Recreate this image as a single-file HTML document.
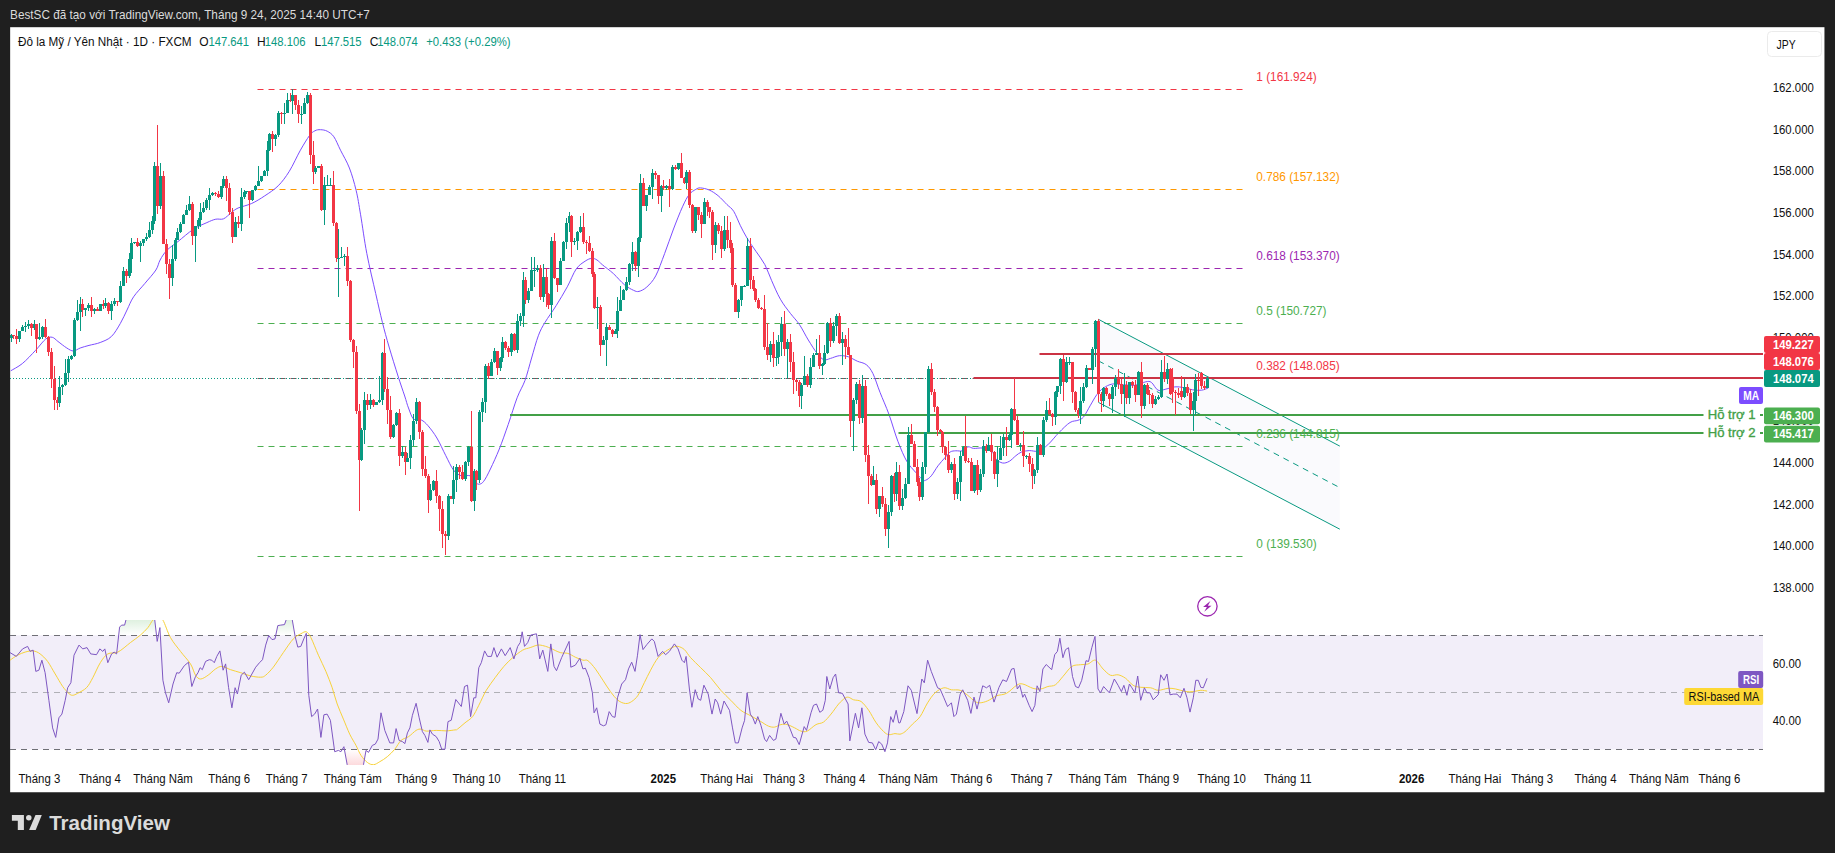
<!DOCTYPE html>
<html><head><meta charset="utf-8"><title>USDJPY</title>
<style>html,body{margin:0;padding:0;background:#1f1f1f;width:1835px;height:853px;overflow:hidden}
svg text{font-family:"Liberation Sans",sans-serif;font-size:12px}</style>
</head><body>
<svg width="1835" height="853" viewBox="0 0 1835 853" style="position:absolute;left:0;top:0">
<defs>
<clipPath id="cm"><rect x="10" y="27" width="1753" height="593"/></clipPath>
<clipPath id="cr"><rect x="10" y="620" width="1753" height="145"/></clipPath>
<clipPath id="c70"><rect x="10" y="620" width="1753" height="15.3"/></clipPath>
<clipPath id="c30"><rect x="10" y="749.4" width="1753" height="15.6"/></clipPath>
<linearGradient id="gob" gradientUnits="userSpaceOnUse" x1="0" y1="549.8" x2="0" y2="635.3"><stop offset="0" stop-color="#4caf50" stop-opacity="1"/><stop offset="1" stop-color="#4caf50" stop-opacity="0"/></linearGradient>
<linearGradient id="gos" gradientUnits="userSpaceOnUse" x1="0" y1="749.4" x2="0" y2="834.9"><stop offset="0" stop-color="#f23645" stop-opacity="0"/><stop offset="1" stop-color="#f23645" stop-opacity="1"/></linearGradient>
</defs>
<rect x="10.15" y="27.2" width="1814.3" height="765.05" fill="#ffffff"/>
<g clip-path="url(#cm)">
<line x1="257.5" x2="1243" y1="89.5" y2="89.5" stroke="#f23645" stroke-width="1" stroke-dasharray="6 5"/>
<line x1="257.5" x2="1243" y1="189.5" y2="189.5" stroke="#ff9800" stroke-width="1" stroke-dasharray="6 5"/>
<line x1="257.5" x2="1243" y1="268.5" y2="268.5" stroke="#9c27b0" stroke-width="1" stroke-dasharray="6 5"/>
<line x1="257.5" x2="1243" y1="323.5" y2="323.5" stroke="#4caf50" stroke-width="1" stroke-dasharray="6 5"/>
<line x1="257.5" x2="1243" y1="446.5" y2="446.5" stroke="#4caf50" stroke-width="1" stroke-dasharray="6 5"/>
<line x1="257.5" x2="1243" y1="556.5" y2="556.5" stroke="#4caf50" stroke-width="1" stroke-dasharray="6 5"/>
<line x1="257.5" x2="1243" y1="378.5" y2="378.5" stroke="#8d4b58" stroke-width="1" stroke-dasharray="6 5"/>
<polygon points="1098.4,319.3 1339.8,446.1 1339.8,529.2 1098.4,402.4" fill="#5b5fc7" fill-opacity="0.03"/>
<line x1="1098.4" y1="319.3" x2="1339.8" y2="446.1" stroke="#089981" stroke-width="1"/>
<line x1="1098.4" y1="402.4" x2="1339.8" y2="529.2" stroke="#089981" stroke-width="1"/>
<line x1="1098.4" y1="360.85" x2="1339.8" y2="487.65000000000003" stroke="#089981" stroke-width="1" stroke-dasharray="6 5"/>
<line x1="10" x2="1763" y1="378.5" y2="378.5" stroke="#089981" stroke-width="1" stroke-dasharray="1 2"/>
<path d="M10.7,370.8C12.6,369.6 18.1,367.0 22.3,363.6C26.5,360.2 31.7,354.4 35.6,350.3C39.5,346.2 42.9,341.2 45.7,339.0C48.5,336.8 50.3,336.9 52.3,337.3C54.3,337.7 55.5,339.6 57.9,341.4C60.3,343.2 64.2,346.4 66.8,348.0C69.4,349.6 71.3,351.0 73.5,351.0C75.7,351.0 77.6,348.9 80.2,348.0C82.8,347.1 85.7,346.3 89.0,345.4C92.3,344.5 96.5,344.0 100.2,342.5C103.9,341.0 108.1,339.7 111.4,336.5C114.8,333.3 117.7,327.9 120.3,323.5C122.9,319.1 124.8,314.4 127.0,310.0C129.2,305.6 130.6,301.2 133.6,296.8C136.6,292.4 141.1,288.0 144.8,283.5C148.5,279.0 153.4,273.9 155.9,270.0C158.4,266.1 158.3,263.3 160.1,260.0C161.9,256.7 163.8,253.5 166.8,250.4C169.8,247.3 173.6,245.0 178.0,241.5C182.4,238.0 188.7,232.3 193.5,229.2C198.3,226.0 203.2,224.3 206.9,222.6C210.6,220.9 213.0,219.8 215.8,219.2C218.6,218.6 221.0,219.9 223.6,218.8C226.2,217.7 229.0,214.3 231.4,212.5C233.8,210.7 234.8,209.5 238.1,208.0C241.4,206.5 246.9,205.6 251.4,203.6C255.9,201.6 260.3,198.8 264.8,195.8C269.3,192.8 274.1,189.9 278.2,185.8C282.3,181.7 285.6,177.2 289.3,171.3C293.0,165.4 297.0,156.1 300.4,150.2C303.8,144.3 307.0,138.9 309.4,135.7C311.8,132.5 313.0,131.8 314.9,130.8C316.8,129.8 318.4,129.6 320.5,129.7C322.6,129.8 325.0,130.0 327.2,131.2C329.4,132.4 331.7,133.6 333.9,136.8C336.1,140.0 337.9,145.0 340.5,150.2C343.1,155.4 346.8,161.3 349.4,168.0C352.0,174.7 354.2,182.5 356.1,190.3C358.0,198.1 358.8,204.3 360.6,214.8C362.4,225.3 364.3,240.3 366.8,253.4C369.3,266.5 373.1,282.0 375.7,293.5C378.3,305.0 380.2,313.5 382.4,322.4C384.6,331.3 386.5,338.1 389.1,347.0C391.7,355.9 395.4,367.8 398.0,376.0C400.6,384.2 402.9,390.7 404.7,396.0C406.4,401.3 407.0,404.2 408.5,408.0C410.0,411.8 411.4,417.0 413.5,419.0C415.6,421.0 418.9,418.9 421.3,420.0C423.7,421.1 425.4,422.7 428.0,425.7C430.6,428.7 433.9,433.0 436.9,438.0C439.9,443.0 443.0,450.3 445.8,455.7C448.6,461.1 451.0,466.8 453.6,470.2C456.2,473.6 458.6,474.9 461.4,475.8C464.2,476.7 467.9,474.7 470.3,475.8C472.7,476.9 474.4,481.1 475.9,482.5C477.4,483.9 477.9,484.4 479.2,484.2C480.5,484.0 481.8,483.8 483.7,481.3C485.6,478.8 487.8,474.4 490.4,469.0C493.0,463.6 496.3,456.4 499.3,449.0C502.3,441.6 505.2,433.0 508.2,424.5C511.2,416.0 514.3,405.2 517.1,397.8C519.9,390.4 522.6,387.0 525.0,380.4C527.4,373.8 529.4,365.4 531.6,358.0C533.8,350.6 536.1,341.7 538.3,335.8C540.5,329.9 542.0,327.4 545.0,322.4C548.0,317.4 552.4,311.6 556.1,305.7C559.8,299.8 563.9,292.9 567.3,286.8C570.6,280.7 573.2,273.3 576.2,269.0C579.2,264.7 582.5,263.0 585.1,261.2C587.7,259.4 589.8,258.5 591.8,258.3C593.8,258.1 595.2,258.9 597.0,260.0C598.8,261.1 599.6,262.4 602.3,264.7C605.0,267.0 609.7,270.2 613.4,273.6C617.1,277.0 621.1,282.0 624.5,284.8C627.9,287.6 631.1,289.2 633.5,290.3C635.9,291.4 636.8,291.9 639.0,291.4C641.2,290.8 644.0,289.6 646.8,287.0C649.6,284.4 652.7,281.5 655.7,275.9C658.7,270.3 661.6,261.4 664.6,253.6C667.6,245.8 670.5,236.8 673.5,229.0C676.5,221.2 679.9,212.5 682.5,206.8C685.1,201.1 686.9,197.5 689.1,194.6C691.3,191.7 693.9,190.5 695.8,189.4C697.7,188.3 698.1,187.8 700.3,187.9C702.5,188.0 706.2,188.7 709.2,190.0C712.2,191.3 715.1,193.3 718.1,195.7C721.1,198.1 724.4,202.0 727.0,204.6C729.6,207.2 731.5,207.8 733.7,211.3C735.9,214.8 738.2,221.2 740.4,225.7C742.6,230.1 744.4,233.7 747.0,238.0C749.6,242.3 753.0,247.0 756.0,251.4C759.0,255.8 762.3,259.9 764.9,264.7C767.5,269.5 768.9,274.6 771.5,280.3C774.1,286.1 777.2,293.7 780.4,299.2C783.5,304.7 787.2,309.2 790.4,313.4C793.6,317.6 796.4,320.1 799.4,324.5C802.4,328.9 805.3,335.2 808.3,340.0C811.3,344.8 814.6,350.2 817.2,353.5C819.8,356.8 821.7,358.9 823.9,359.7C826.1,360.5 827.9,359.1 830.5,358.4C833.1,357.7 836.4,356.0 839.4,355.7C842.4,355.4 845.4,355.9 848.4,356.8C851.4,357.7 854.3,359.9 857.3,361.2C860.3,362.5 863.6,362.6 866.2,364.6C868.8,366.7 870.6,368.9 872.9,373.5C875.2,378.1 877.3,385.5 880.0,392.3C882.7,399.1 886.0,406.3 889.0,414.5C892.0,422.7 894.9,433.5 897.9,441.3C900.9,449.1 903.8,456.1 906.8,461.3C909.8,466.5 913.1,469.3 915.7,472.4C918.3,475.4 920.7,478.3 922.4,479.6C924.1,480.9 924.2,480.8 925.7,480.2C927.2,479.6 929.2,478.2 931.3,475.8C933.3,473.4 935.8,468.8 938.0,465.8C940.2,462.8 942.7,460.3 944.7,458.0C946.7,455.7 948.4,453.2 950.2,452.0C952.1,450.8 953.8,451.0 955.8,450.8C957.8,450.6 960.5,451.5 962.5,450.8C964.5,450.1 966.1,447.2 968.0,446.8C969.9,446.4 971.2,448.2 973.6,448.4C976.0,448.6 979.5,447.7 982.5,448.0C985.5,448.3 989.2,448.4 991.4,450.2C993.6,452.0 994.0,456.9 995.9,459.0C997.8,461.1 1000.4,462.6 1002.6,463.0C1004.8,463.4 1007.1,462.5 1009.3,461.3C1011.5,460.1 1013.9,457.2 1015.9,455.7C1017.9,454.1 1019.3,452.9 1021.5,452.0C1023.7,451.1 1026.5,450.8 1029.3,450.6C1032.1,450.4 1035.1,452.0 1038.2,451.0C1041.3,450.0 1044.3,447.9 1047.8,444.8C1051.3,441.7 1055.3,436.2 1059.0,432.5C1062.7,428.8 1066.8,424.5 1070.0,422.5C1073.2,420.5 1075.7,421.2 1077.9,420.3C1080.2,419.4 1081.5,419.4 1083.5,417.0C1085.5,414.6 1087.9,409.5 1090.1,405.8C1092.3,402.1 1094.6,397.7 1096.8,394.7C1099.0,391.7 1100.9,389.8 1103.5,388.0C1106.1,386.2 1109.1,384.6 1112.4,384.0C1115.7,383.4 1119.8,384.5 1123.5,384.7C1127.2,384.9 1131.0,385.8 1134.7,385.3C1138.4,384.8 1143.0,382.3 1145.8,381.8C1148.6,381.3 1149.4,381.0 1151.4,382.4C1153.4,383.8 1155.6,389.1 1158.0,390.2C1160.4,391.3 1163.1,389.7 1165.9,389.1C1168.7,388.6 1171.8,387.1 1174.8,386.9C1177.8,386.6 1180.7,387.1 1183.7,387.6C1186.7,388.1 1189.6,389.4 1192.6,389.8C1195.6,390.2 1198.9,390.5 1201.5,390.2C1204.1,389.9 1207.1,388.4 1208.2,388.0" fill="none" stroke="#7c4dff" stroke-width="1" stroke-linejoin="round"/>
<rect x="1039.5" y="353" width="723.5" height="2" fill="#cb3344"/>
<rect x="973.5" y="377" width="789.5" height="2" fill="#cb3344"/>
<rect x="510" y="414" width="1193.5" height="2" fill="#43a047"/>
<rect x="898.5" y="432" width="805.0" height="2" fill="#43a047"/>
<rect x="1760" y="414" width="3" height="2" fill="#43a047"/>
<rect x="1760" y="432" width="3" height="2" fill="#43a047"/>
<g shape-rendering="crispEdges">
<rect x="11" y="334" width="1" height="8" fill="#089981"/><rect x="10" y="335" width="3" height="3" fill="#089981"/>
<rect x="13" y="335" width="1" height="4" fill="#f23645"/><rect x="12" y="335" width="3" height="1" fill="#f23645"/>
<rect x="16" y="329" width="1" height="15" fill="#f23645"/><rect x="15" y="336" width="3" height="3" fill="#f23645"/>
<rect x="19" y="331" width="1" height="11" fill="#089981"/><rect x="18" y="331" width="3" height="8" fill="#089981"/>
<rect x="22" y="325" width="1" height="6" fill="#089981"/><rect x="21" y="327" width="3" height="4" fill="#089981"/>
<rect x="25" y="322" width="1" height="10" fill="#089981"/><rect x="24" y="326" width="3" height="1" fill="#089981"/>
<rect x="28" y="320" width="1" height="9" fill="#089981"/><rect x="27" y="324" width="3" height="2" fill="#089981"/>
<rect x="31" y="323" width="1" height="13" fill="#f23645"/><rect x="30" y="324" width="3" height="4" fill="#f23645"/>
<rect x="34" y="320" width="1" height="10" fill="#089981"/><rect x="33" y="324" width="3" height="4" fill="#089981"/>
<rect x="36" y="324" width="1" height="29" fill="#f23645"/><rect x="35" y="324" width="3" height="15" fill="#f23645"/>
<rect x="39" y="323" width="1" height="17" fill="#089981"/><rect x="38" y="337" width="3" height="2" fill="#089981"/>
<rect x="42" y="326" width="1" height="13" fill="#089981"/><rect x="41" y="327" width="3" height="10" fill="#089981"/>
<rect x="45" y="319" width="1" height="19" fill="#f23645"/><rect x="44" y="327" width="3" height="10" fill="#f23645"/>
<rect x="48" y="336" width="1" height="20" fill="#f23645"/><rect x="47" y="337" width="3" height="15" fill="#f23645"/>
<rect x="51" y="348" width="1" height="40" fill="#f23645"/><rect x="50" y="352" width="3" height="27" fill="#f23645"/>
<rect x="54" y="366" width="1" height="44" fill="#f23645"/><rect x="53" y="379" width="3" height="21" fill="#f23645"/>
<rect x="57" y="397" width="1" height="13" fill="#f23645"/><rect x="56" y="400" width="3" height="3" fill="#f23645"/>
<rect x="59" y="376" width="1" height="31" fill="#089981"/><rect x="58" y="387" width="3" height="16" fill="#089981"/>
<rect x="62" y="384" width="1" height="11" fill="#089981"/><rect x="61" y="385" width="3" height="2" fill="#089981"/>
<rect x="65" y="359" width="1" height="27" fill="#089981"/><rect x="64" y="373" width="3" height="12" fill="#089981"/>
<rect x="68" y="356" width="1" height="26" fill="#089981"/><rect x="67" y="359" width="3" height="14" fill="#089981"/>
<rect x="71" y="355" width="1" height="5" fill="#089981"/><rect x="70" y="356" width="3" height="3" fill="#089981"/>
<rect x="74" y="318" width="1" height="39" fill="#089981"/><rect x="73" y="320" width="3" height="36" fill="#089981"/>
<rect x="77" y="300" width="1" height="21" fill="#089981"/><rect x="76" y="312" width="3" height="8" fill="#089981"/>
<rect x="80" y="297" width="1" height="34" fill="#089981"/><rect x="79" y="304" width="3" height="8" fill="#089981"/>
<rect x="82" y="299" width="1" height="18" fill="#f23645"/><rect x="81" y="304" width="3" height="6" fill="#f23645"/>
<rect x="85" y="308" width="1" height="8" fill="#089981"/><rect x="84" y="308" width="3" height="2" fill="#089981"/>
<rect x="88" y="303" width="1" height="8" fill="#089981"/><rect x="87" y="305" width="3" height="3" fill="#089981"/>
<rect x="91" y="297" width="1" height="20" fill="#f23645"/><rect x="90" y="305" width="3" height="6" fill="#f23645"/>
<rect x="94" y="308" width="1" height="6" fill="#089981"/><rect x="93" y="309" width="3" height="2" fill="#089981"/>
<rect x="97" y="307" width="1" height="4" fill="#f23645"/><rect x="96" y="309" width="3" height="2" fill="#f23645"/>
<rect x="100" y="304" width="1" height="7" fill="#089981"/><rect x="99" y="304" width="3" height="7" fill="#089981"/>
<rect x="103" y="300" width="1" height="9" fill="#f23645"/><rect x="102" y="304" width="3" height="2" fill="#f23645"/>
<rect x="105" y="298" width="1" height="10" fill="#089981"/><rect x="104" y="303" width="3" height="3" fill="#089981"/>
<rect x="108" y="302" width="1" height="12" fill="#f23645"/><rect x="107" y="303" width="3" height="8" fill="#f23645"/>
<rect x="111" y="301" width="1" height="19" fill="#089981"/><rect x="110" y="304" width="3" height="7" fill="#089981"/>
<rect x="114" y="298" width="1" height="8" fill="#089981"/><rect x="113" y="301" width="3" height="3" fill="#089981"/>
<rect x="117" y="301" width="1" height="5" fill="#f23645"/><rect x="116" y="301" width="3" height="1" fill="#f23645"/>
<rect x="120" y="281" width="1" height="22" fill="#089981"/><rect x="119" y="286" width="3" height="16" fill="#089981"/>
<rect x="123" y="267" width="1" height="19" fill="#089981"/><rect x="122" y="271" width="3" height="15" fill="#089981"/>
<rect x="126" y="269" width="1" height="14" fill="#f23645"/><rect x="125" y="271" width="3" height="5" fill="#f23645"/>
<rect x="129" y="253" width="1" height="25" fill="#089981"/><rect x="128" y="259" width="3" height="17" fill="#089981"/>
<rect x="131" y="238" width="1" height="35" fill="#089981"/><rect x="130" y="243" width="3" height="16" fill="#089981"/>
<rect x="134" y="242" width="1" height="2" fill="#089981"/><rect x="133" y="242" width="3" height="1" fill="#089981"/>
<rect x="137" y="238" width="1" height="9" fill="#f23645"/><rect x="136" y="242" width="3" height="4" fill="#f23645"/>
<rect x="140" y="241" width="1" height="21" fill="#089981"/><rect x="139" y="243" width="3" height="3" fill="#089981"/>
<rect x="143" y="239" width="1" height="7" fill="#089981"/><rect x="142" y="239" width="3" height="4" fill="#089981"/>
<rect x="146" y="233" width="1" height="8" fill="#089981"/><rect x="145" y="237" width="3" height="2" fill="#089981"/>
<rect x="149" y="222" width="1" height="16" fill="#089981"/><rect x="148" y="230" width="3" height="7" fill="#089981"/>
<rect x="152" y="216" width="1" height="18" fill="#089981"/><rect x="151" y="221" width="3" height="9" fill="#089981"/>
<rect x="154" y="162" width="1" height="62" fill="#089981"/><rect x="153" y="166" width="3" height="55" fill="#089981"/>
<rect x="157" y="125" width="1" height="89" fill="#f23645"/><rect x="156" y="166" width="3" height="40" fill="#f23645"/>
<rect x="160" y="163" width="1" height="46" fill="#089981"/><rect x="159" y="176" width="3" height="30" fill="#089981"/>
<rect x="163" y="171" width="1" height="73" fill="#f23645"/><rect x="162" y="176" width="3" height="68" fill="#f23645"/>
<rect x="166" y="239" width="1" height="35" fill="#f23645"/><rect x="165" y="244" width="3" height="20" fill="#f23645"/>
<rect x="169" y="259" width="1" height="40" fill="#f23645"/><rect x="168" y="264" width="3" height="14" fill="#f23645"/>
<rect x="172" y="245" width="1" height="41" fill="#089981"/><rect x="171" y="259" width="3" height="19" fill="#089981"/>
<rect x="175" y="238" width="1" height="23" fill="#089981"/><rect x="174" y="240" width="3" height="19" fill="#089981"/>
<rect x="177" y="228" width="1" height="12" fill="#089981"/><rect x="176" y="232" width="3" height="8" fill="#089981"/>
<rect x="180" y="222" width="1" height="11" fill="#089981"/><rect x="179" y="224" width="3" height="8" fill="#089981"/>
<rect x="183" y="214" width="1" height="10" fill="#089981"/><rect x="182" y="215" width="3" height="9" fill="#089981"/>
<rect x="186" y="205" width="1" height="10" fill="#089981"/><rect x="185" y="210" width="3" height="5" fill="#089981"/>
<rect x="189" y="196" width="1" height="15" fill="#089981"/><rect x="188" y="204" width="3" height="6" fill="#089981"/>
<rect x="192" y="202" width="1" height="43" fill="#f23645"/><rect x="191" y="204" width="3" height="32" fill="#f23645"/>
<rect x="195" y="226" width="1" height="36" fill="#089981"/><rect x="194" y="226" width="3" height="10" fill="#089981"/>
<rect x="198" y="218" width="1" height="11" fill="#089981"/><rect x="197" y="220" width="3" height="6" fill="#089981"/>
<rect x="200" y="203" width="1" height="24" fill="#089981"/><rect x="199" y="212" width="3" height="8" fill="#089981"/>
<rect x="203" y="202" width="1" height="11" fill="#089981"/><rect x="202" y="208" width="3" height="4" fill="#089981"/>
<rect x="206" y="198" width="1" height="12" fill="#089981"/><rect x="205" y="200" width="3" height="8" fill="#089981"/>
<rect x="209" y="188" width="1" height="22" fill="#089981"/><rect x="208" y="195" width="3" height="5" fill="#089981"/>
<rect x="212" y="192" width="1" height="4" fill="#089981"/><rect x="211" y="193" width="3" height="2" fill="#089981"/>
<rect x="215" y="192" width="1" height="4" fill="#f23645"/><rect x="214" y="193" width="3" height="1" fill="#f23645"/>
<rect x="218" y="191" width="1" height="7" fill="#f23645"/><rect x="217" y="194" width="3" height="3" fill="#f23645"/>
<rect x="221" y="186" width="1" height="13" fill="#089981"/><rect x="220" y="186" width="3" height="11" fill="#089981"/>
<rect x="223" y="176" width="1" height="12" fill="#089981"/><rect x="222" y="179" width="3" height="7" fill="#089981"/>
<rect x="226" y="176" width="1" height="25" fill="#f23645"/><rect x="225" y="179" width="3" height="9" fill="#f23645"/>
<rect x="229" y="183" width="1" height="32" fill="#f23645"/><rect x="228" y="188" width="3" height="24" fill="#f23645"/>
<rect x="232" y="208" width="1" height="35" fill="#f23645"/><rect x="231" y="212" width="3" height="25" fill="#f23645"/>
<rect x="235" y="217" width="1" height="20" fill="#089981"/><rect x="234" y="222" width="3" height="15" fill="#089981"/>
<rect x="238" y="216" width="1" height="12" fill="#f23645"/><rect x="237" y="222" width="3" height="2" fill="#f23645"/>
<rect x="241" y="188" width="1" height="43" fill="#089981"/><rect x="240" y="197" width="3" height="27" fill="#089981"/>
<rect x="244" y="190" width="1" height="9" fill="#089981"/><rect x="243" y="192" width="3" height="5" fill="#089981"/>
<rect x="246" y="191" width="1" height="3" fill="#089981"/><rect x="245" y="191" width="3" height="1" fill="#089981"/>
<rect x="249" y="191" width="1" height="27" fill="#f23645"/><rect x="248" y="191" width="3" height="9" fill="#f23645"/>
<rect x="252" y="190" width="1" height="11" fill="#089981"/><rect x="251" y="190" width="3" height="10" fill="#089981"/>
<rect x="255" y="185" width="1" height="6" fill="#089981"/><rect x="254" y="186" width="3" height="4" fill="#089981"/>
<rect x="258" y="166" width="1" height="20" fill="#089981"/><rect x="257" y="181" width="3" height="5" fill="#089981"/>
<rect x="261" y="176" width="1" height="6" fill="#089981"/><rect x="260" y="176" width="3" height="5" fill="#089981"/>
<rect x="264" y="170" width="1" height="6" fill="#089981"/><rect x="263" y="171" width="3" height="5" fill="#089981"/>
<rect x="267" y="141" width="1" height="35" fill="#089981"/><rect x="266" y="150" width="3" height="21" fill="#089981"/>
<rect x="269" y="133" width="1" height="18" fill="#089981"/><rect x="268" y="134" width="3" height="16" fill="#089981"/>
<rect x="272" y="131" width="1" height="21" fill="#f23645"/><rect x="271" y="134" width="3" height="5" fill="#f23645"/>
<rect x="275" y="134" width="1" height="12" fill="#089981"/><rect x="274" y="135" width="3" height="4" fill="#089981"/>
<rect x="278" y="111" width="1" height="26" fill="#089981"/><rect x="277" y="113" width="3" height="22" fill="#089981"/>
<rect x="281" y="112" width="1" height="12" fill="#f23645"/><rect x="280" y="113" width="3" height="1" fill="#f23645"/>
<rect x="284" y="103" width="1" height="21" fill="#089981"/><rect x="283" y="113" width="3" height="1" fill="#089981"/>
<rect x="287" y="93" width="1" height="20" fill="#089981"/><rect x="286" y="100" width="3" height="13" fill="#089981"/>
<rect x="290" y="93" width="1" height="9" fill="#f23645"/><rect x="289" y="100" width="3" height="1" fill="#f23645"/>
<rect x="292" y="89" width="1" height="25" fill="#089981"/><rect x="291" y="95" width="3" height="6" fill="#089981"/>
<rect x="295" y="95" width="1" height="15" fill="#f23645"/><rect x="294" y="95" width="3" height="10" fill="#f23645"/>
<rect x="298" y="100" width="1" height="23" fill="#f23645"/><rect x="297" y="105" width="3" height="9" fill="#f23645"/>
<rect x="301" y="106" width="1" height="18" fill="#089981"/><rect x="300" y="114" width="3" height="1" fill="#089981"/>
<rect x="304" y="98" width="1" height="16" fill="#089981"/><rect x="303" y="103" width="3" height="11" fill="#089981"/>
<rect x="307" y="92" width="1" height="12" fill="#089981"/><rect x="306" y="95" width="3" height="8" fill="#089981"/>
<rect x="310" y="93" width="1" height="71" fill="#f23645"/><rect x="309" y="95" width="3" height="60" fill="#f23645"/>
<rect x="313" y="141" width="1" height="43" fill="#f23645"/><rect x="312" y="155" width="3" height="17" fill="#f23645"/>
<rect x="315" y="166" width="1" height="8" fill="#089981"/><rect x="314" y="168" width="3" height="4" fill="#089981"/>
<rect x="318" y="166" width="1" height="2" fill="#089981"/><rect x="317" y="166" width="3" height="2" fill="#089981"/>
<rect x="321" y="164" width="1" height="47" fill="#f23645"/><rect x="320" y="166" width="3" height="44" fill="#f23645"/>
<rect x="324" y="177" width="1" height="48" fill="#089981"/><rect x="323" y="185" width="3" height="25" fill="#089981"/>
<rect x="327" y="175" width="1" height="10" fill="#089981"/><rect x="326" y="185" width="3" height="1" fill="#089981"/>
<rect x="330" y="178" width="1" height="7" fill="#089981"/><rect x="329" y="185" width="3" height="1" fill="#089981"/>
<rect x="333" y="171" width="1" height="55" fill="#f23645"/><rect x="332" y="185" width="3" height="38" fill="#f23645"/>
<rect x="336" y="222" width="1" height="40" fill="#f23645"/><rect x="335" y="223" width="3" height="35" fill="#f23645"/>
<rect x="338" y="229" width="1" height="68" fill="#089981"/><rect x="337" y="258" width="3" height="1" fill="#089981"/>
<rect x="341" y="247" width="1" height="11" fill="#089981"/><rect x="340" y="257" width="3" height="1" fill="#089981"/>
<rect x="344" y="254" width="1" height="12" fill="#089981"/><rect x="343" y="256" width="3" height="1" fill="#089981"/>
<rect x="347" y="247" width="1" height="39" fill="#f23645"/><rect x="346" y="256" width="3" height="25" fill="#f23645"/>
<rect x="350" y="280" width="1" height="62" fill="#f23645"/><rect x="349" y="281" width="3" height="59" fill="#f23645"/>
<rect x="353" y="339" width="1" height="29" fill="#f23645"/><rect x="352" y="340" width="3" height="12" fill="#f23645"/>
<rect x="356" y="346" width="1" height="68" fill="#f23645"/><rect x="355" y="352" width="3" height="59" fill="#f23645"/>
<rect x="359" y="404" width="1" height="107" fill="#f23645"/><rect x="358" y="411" width="3" height="49" fill="#f23645"/>
<rect x="361" y="428" width="1" height="33" fill="#089981"/><rect x="360" y="430" width="3" height="30" fill="#089981"/>
<rect x="364" y="392" width="1" height="52" fill="#089981"/><rect x="363" y="400" width="3" height="30" fill="#089981"/>
<rect x="367" y="394" width="1" height="16" fill="#f23645"/><rect x="366" y="400" width="3" height="5" fill="#f23645"/>
<rect x="370" y="394" width="1" height="15" fill="#089981"/><rect x="369" y="400" width="3" height="5" fill="#089981"/>
<rect x="373" y="399" width="1" height="8" fill="#f23645"/><rect x="372" y="400" width="3" height="5" fill="#f23645"/>
<rect x="376" y="402" width="1" height="3" fill="#089981"/><rect x="375" y="402" width="3" height="3" fill="#089981"/>
<rect x="379" y="376" width="1" height="27" fill="#089981"/><rect x="378" y="400" width="3" height="2" fill="#089981"/>
<rect x="382" y="352" width="1" height="53" fill="#089981"/><rect x="381" y="353" width="3" height="47" fill="#089981"/>
<rect x="384" y="339" width="1" height="53" fill="#f23645"/><rect x="383" y="353" width="3" height="36" fill="#f23645"/>
<rect x="387" y="377" width="1" height="47" fill="#f23645"/><rect x="386" y="389" width="3" height="21" fill="#f23645"/>
<rect x="390" y="396" width="1" height="43" fill="#f23645"/><rect x="389" y="410" width="3" height="27" fill="#f23645"/>
<rect x="393" y="424" width="1" height="14" fill="#089981"/><rect x="392" y="425" width="3" height="12" fill="#089981"/>
<rect x="396" y="412" width="1" height="14" fill="#089981"/><rect x="395" y="413" width="3" height="12" fill="#089981"/>
<rect x="399" y="409" width="1" height="57" fill="#f23645"/><rect x="398" y="413" width="3" height="43" fill="#f23645"/>
<rect x="402" y="446" width="1" height="12" fill="#089981"/><rect x="401" y="452" width="3" height="4" fill="#089981"/>
<rect x="405" y="447" width="1" height="28" fill="#f23645"/><rect x="404" y="452" width="3" height="10" fill="#f23645"/>
<rect x="407" y="453" width="1" height="9" fill="#089981"/><rect x="406" y="458" width="3" height="4" fill="#089981"/>
<rect x="410" y="435" width="1" height="34" fill="#089981"/><rect x="409" y="440" width="3" height="18" fill="#089981"/>
<rect x="413" y="414" width="1" height="32" fill="#089981"/><rect x="412" y="421" width="3" height="19" fill="#089981"/>
<rect x="416" y="398" width="1" height="26" fill="#089981"/><rect x="415" y="402" width="3" height="19" fill="#089981"/>
<rect x="419" y="401" width="1" height="38" fill="#f23645"/><rect x="418" y="402" width="3" height="30" fill="#f23645"/>
<rect x="422" y="430" width="1" height="46" fill="#f23645"/><rect x="421" y="432" width="3" height="37" fill="#f23645"/>
<rect x="425" y="456" width="1" height="22" fill="#f23645"/><rect x="424" y="469" width="3" height="7" fill="#f23645"/>
<rect x="428" y="474" width="1" height="39" fill="#f23645"/><rect x="427" y="476" width="3" height="24" fill="#f23645"/>
<rect x="430" y="484" width="1" height="17" fill="#089981"/><rect x="429" y="490" width="3" height="10" fill="#089981"/>
<rect x="433" y="480" width="1" height="11" fill="#089981"/><rect x="432" y="481" width="3" height="9" fill="#089981"/>
<rect x="436" y="470" width="1" height="33" fill="#f23645"/><rect x="435" y="481" width="3" height="15" fill="#f23645"/>
<rect x="439" y="495" width="1" height="36" fill="#f23645"/><rect x="438" y="496" width="3" height="13" fill="#f23645"/>
<rect x="442" y="501" width="1" height="47" fill="#f23645"/><rect x="441" y="509" width="3" height="25" fill="#f23645"/>
<rect x="445" y="531" width="1" height="24" fill="#f23645"/><rect x="444" y="534" width="3" height="2" fill="#f23645"/>
<rect x="448" y="494" width="1" height="46" fill="#089981"/><rect x="447" y="496" width="3" height="40" fill="#089981"/>
<rect x="451" y="496" width="1" height="3" fill="#f23645"/><rect x="450" y="496" width="3" height="3" fill="#f23645"/>
<rect x="453" y="466" width="1" height="38" fill="#089981"/><rect x="452" y="480" width="3" height="19" fill="#089981"/>
<rect x="456" y="464" width="1" height="28" fill="#089981"/><rect x="455" y="467" width="3" height="13" fill="#089981"/>
<rect x="459" y="465" width="1" height="14" fill="#f23645"/><rect x="458" y="467" width="3" height="5" fill="#f23645"/>
<rect x="462" y="465" width="1" height="15" fill="#f23645"/><rect x="461" y="472" width="3" height="7" fill="#f23645"/>
<rect x="465" y="461" width="1" height="20" fill="#089981"/><rect x="464" y="462" width="3" height="17" fill="#089981"/>
<rect x="468" y="446" width="1" height="20" fill="#089981"/><rect x="467" y="447" width="3" height="15" fill="#089981"/>
<rect x="471" y="411" width="1" height="91" fill="#f23645"/><rect x="470" y="447" width="3" height="54" fill="#f23645"/>
<rect x="474" y="469" width="1" height="42" fill="#089981"/><rect x="473" y="471" width="3" height="30" fill="#089981"/>
<rect x="476" y="470" width="1" height="20" fill="#f23645"/><rect x="475" y="471" width="3" height="9" fill="#f23645"/>
<rect x="479" y="410" width="1" height="73" fill="#089981"/><rect x="478" y="412" width="3" height="68" fill="#089981"/>
<rect x="482" y="398" width="1" height="24" fill="#089981"/><rect x="481" y="402" width="3" height="10" fill="#089981"/>
<rect x="485" y="364" width="1" height="49" fill="#089981"/><rect x="484" y="366" width="3" height="36" fill="#089981"/>
<rect x="488" y="363" width="1" height="16" fill="#f23645"/><rect x="487" y="366" width="3" height="10" fill="#f23645"/>
<rect x="491" y="359" width="1" height="17" fill="#089981"/><rect x="490" y="362" width="3" height="14" fill="#089981"/>
<rect x="494" y="348" width="1" height="15" fill="#089981"/><rect x="493" y="351" width="3" height="11" fill="#089981"/>
<rect x="497" y="351" width="1" height="24" fill="#f23645"/><rect x="496" y="351" width="3" height="17" fill="#f23645"/>
<rect x="500" y="357" width="1" height="14" fill="#089981"/><rect x="499" y="358" width="3" height="10" fill="#089981"/>
<rect x="502" y="337" width="1" height="25" fill="#089981"/><rect x="501" y="342" width="3" height="16" fill="#089981"/>
<rect x="505" y="341" width="1" height="9" fill="#f23645"/><rect x="504" y="342" width="3" height="6" fill="#f23645"/>
<rect x="508" y="346" width="1" height="11" fill="#f23645"/><rect x="507" y="348" width="3" height="4" fill="#f23645"/>
<rect x="511" y="333" width="1" height="23" fill="#089981"/><rect x="510" y="334" width="3" height="18" fill="#089981"/>
<rect x="514" y="333" width="1" height="18" fill="#f23645"/><rect x="513" y="334" width="3" height="16" fill="#f23645"/>
<rect x="517" y="314" width="1" height="39" fill="#089981"/><rect x="516" y="321" width="3" height="29" fill="#089981"/>
<rect x="520" y="313" width="1" height="13" fill="#089981"/><rect x="519" y="316" width="3" height="5" fill="#089981"/>
<rect x="523" y="272" width="1" height="55" fill="#089981"/><rect x="522" y="280" width="3" height="36" fill="#089981"/>
<rect x="525" y="277" width="1" height="27" fill="#f23645"/><rect x="524" y="280" width="3" height="20" fill="#f23645"/>
<rect x="528" y="288" width="1" height="15" fill="#089981"/><rect x="527" y="291" width="3" height="9" fill="#089981"/>
<rect x="531" y="257" width="1" height="34" fill="#089981"/><rect x="530" y="270" width="3" height="21" fill="#089981"/>
<rect x="534" y="257" width="1" height="30" fill="#089981"/><rect x="533" y="270" width="3" height="1" fill="#089981"/>
<rect x="537" y="265" width="1" height="7" fill="#089981"/><rect x="536" y="268" width="3" height="2" fill="#089981"/>
<rect x="540" y="265" width="1" height="35" fill="#f23645"/><rect x="539" y="268" width="3" height="29" fill="#f23645"/>
<rect x="543" y="264" width="1" height="38" fill="#089981"/><rect x="542" y="277" width="3" height="20" fill="#089981"/>
<rect x="546" y="268" width="1" height="39" fill="#f23645"/><rect x="545" y="277" width="3" height="17" fill="#f23645"/>
<rect x="548" y="293" width="1" height="16" fill="#f23645"/><rect x="547" y="294" width="3" height="11" fill="#f23645"/>
<rect x="551" y="237" width="1" height="81" fill="#089981"/><rect x="550" y="241" width="3" height="64" fill="#089981"/>
<rect x="554" y="233" width="1" height="46" fill="#f23645"/><rect x="553" y="241" width="3" height="37" fill="#f23645"/>
<rect x="557" y="278" width="1" height="14" fill="#f23645"/><rect x="556" y="278" width="3" height="7" fill="#f23645"/>
<rect x="560" y="258" width="1" height="27" fill="#089981"/><rect x="559" y="261" width="3" height="24" fill="#089981"/>
<rect x="563" y="241" width="1" height="20" fill="#089981"/><rect x="562" y="242" width="3" height="19" fill="#089981"/>
<rect x="566" y="218" width="1" height="31" fill="#089981"/><rect x="565" y="223" width="3" height="19" fill="#089981"/>
<rect x="569" y="212" width="1" height="20" fill="#089981"/><rect x="568" y="216" width="3" height="7" fill="#089981"/>
<rect x="571" y="215" width="1" height="42" fill="#f23645"/><rect x="570" y="216" width="3" height="26" fill="#f23645"/>
<rect x="574" y="238" width="1" height="7" fill="#089981"/><rect x="573" y="241" width="3" height="1" fill="#089981"/>
<rect x="577" y="231" width="1" height="19" fill="#089981"/><rect x="576" y="232" width="3" height="9" fill="#089981"/>
<rect x="580" y="216" width="1" height="17" fill="#089981"/><rect x="579" y="227" width="3" height="5" fill="#089981"/>
<rect x="583" y="213" width="1" height="31" fill="#f23645"/><rect x="582" y="227" width="3" height="15" fill="#f23645"/>
<rect x="586" y="240" width="1" height="14" fill="#f23645"/><rect x="585" y="242" width="3" height="1" fill="#f23645"/>
<rect x="589" y="236" width="1" height="16" fill="#f23645"/><rect x="588" y="243" width="3" height="8" fill="#f23645"/>
<rect x="592" y="248" width="1" height="29" fill="#f23645"/><rect x="591" y="251" width="3" height="23" fill="#f23645"/>
<rect x="594" y="272" width="1" height="37" fill="#f23645"/><rect x="593" y="274" width="3" height="34" fill="#f23645"/>
<rect x="597" y="297" width="1" height="32" fill="#089981"/><rect x="596" y="307" width="3" height="1" fill="#089981"/>
<rect x="600" y="305" width="1" height="51" fill="#f23645"/><rect x="599" y="307" width="3" height="38" fill="#f23645"/>
<rect x="603" y="336" width="1" height="9" fill="#089981"/><rect x="602" y="340" width="3" height="5" fill="#089981"/>
<rect x="606" y="323" width="1" height="43" fill="#089981"/><rect x="605" y="327" width="3" height="13" fill="#089981"/>
<rect x="609" y="325" width="1" height="5" fill="#f23645"/><rect x="608" y="327" width="3" height="3" fill="#f23645"/>
<rect x="612" y="329" width="1" height="8" fill="#f23645"/><rect x="611" y="330" width="3" height="4" fill="#f23645"/>
<rect x="615" y="329" width="1" height="5" fill="#089981"/><rect x="614" y="331" width="3" height="3" fill="#089981"/>
<rect x="617" y="297" width="1" height="41" fill="#089981"/><rect x="616" y="311" width="3" height="20" fill="#089981"/>
<rect x="620" y="286" width="1" height="25" fill="#089981"/><rect x="619" y="300" width="3" height="11" fill="#089981"/>
<rect x="623" y="289" width="1" height="11" fill="#089981"/><rect x="622" y="290" width="3" height="10" fill="#089981"/>
<rect x="626" y="277" width="1" height="14" fill="#089981"/><rect x="625" y="282" width="3" height="8" fill="#089981"/>
<rect x="629" y="263" width="1" height="22" fill="#089981"/><rect x="628" y="264" width="3" height="18" fill="#089981"/>
<rect x="632" y="242" width="1" height="29" fill="#089981"/><rect x="631" y="252" width="3" height="12" fill="#089981"/>
<rect x="635" y="251" width="1" height="20" fill="#f23645"/><rect x="634" y="252" width="3" height="14" fill="#f23645"/>
<rect x="638" y="237" width="1" height="40" fill="#089981"/><rect x="637" y="238" width="3" height="28" fill="#089981"/>
<rect x="640" y="174" width="1" height="68" fill="#089981"/><rect x="639" y="183" width="3" height="55" fill="#089981"/>
<rect x="643" y="178" width="1" height="28" fill="#f23645"/><rect x="642" y="183" width="3" height="23" fill="#f23645"/>
<rect x="646" y="195" width="1" height="16" fill="#089981"/><rect x="645" y="195" width="3" height="11" fill="#089981"/>
<rect x="649" y="185" width="1" height="10" fill="#089981"/><rect x="648" y="187" width="3" height="8" fill="#089981"/>
<rect x="652" y="169" width="1" height="30" fill="#089981"/><rect x="651" y="173" width="3" height="14" fill="#089981"/>
<rect x="655" y="171" width="1" height="8" fill="#f23645"/><rect x="654" y="173" width="3" height="2" fill="#f23645"/>
<rect x="658" y="175" width="1" height="29" fill="#f23645"/><rect x="657" y="175" width="3" height="21" fill="#f23645"/>
<rect x="661" y="185" width="1" height="27" fill="#089981"/><rect x="660" y="186" width="3" height="10" fill="#089981"/>
<rect x="663" y="180" width="1" height="10" fill="#f23645"/><rect x="662" y="186" width="3" height="2" fill="#f23645"/>
<rect x="666" y="185" width="1" height="5" fill="#089981"/><rect x="665" y="186" width="3" height="2" fill="#089981"/>
<rect x="669" y="179" width="1" height="28" fill="#f23645"/><rect x="668" y="186" width="3" height="3" fill="#f23645"/>
<rect x="672" y="165" width="1" height="25" fill="#089981"/><rect x="671" y="167" width="3" height="22" fill="#089981"/>
<rect x="675" y="165" width="1" height="5" fill="#f23645"/><rect x="674" y="167" width="3" height="2" fill="#f23645"/>
<rect x="678" y="163" width="1" height="7" fill="#089981"/><rect x="677" y="163" width="3" height="6" fill="#089981"/>
<rect x="681" y="153" width="1" height="25" fill="#f23645"/><rect x="680" y="163" width="3" height="15" fill="#f23645"/>
<rect x="684" y="177" width="1" height="7" fill="#f23645"/><rect x="683" y="178" width="3" height="5" fill="#f23645"/>
<rect x="686" y="170" width="1" height="19" fill="#089981"/><rect x="685" y="172" width="3" height="11" fill="#089981"/>
<rect x="689" y="170" width="1" height="38" fill="#f23645"/><rect x="688" y="172" width="3" height="33" fill="#f23645"/>
<rect x="692" y="204" width="1" height="29" fill="#f23645"/><rect x="691" y="205" width="3" height="26" fill="#f23645"/>
<rect x="695" y="207" width="1" height="26" fill="#089981"/><rect x="694" y="207" width="3" height="24" fill="#089981"/>
<rect x="698" y="207" width="1" height="13" fill="#f23645"/><rect x="697" y="207" width="3" height="8" fill="#f23645"/>
<rect x="701" y="212" width="1" height="26" fill="#f23645"/><rect x="700" y="215" width="3" height="9" fill="#f23645"/>
<rect x="704" y="198" width="1" height="26" fill="#089981"/><rect x="703" y="202" width="3" height="22" fill="#089981"/>
<rect x="707" y="200" width="1" height="16" fill="#f23645"/><rect x="706" y="202" width="3" height="5" fill="#f23645"/>
<rect x="709" y="207" width="1" height="11" fill="#f23645"/><rect x="708" y="207" width="3" height="5" fill="#f23645"/>
<rect x="712" y="210" width="1" height="50" fill="#f23645"/><rect x="711" y="212" width="3" height="33" fill="#f23645"/>
<rect x="715" y="222" width="1" height="31" fill="#089981"/><rect x="714" y="225" width="3" height="20" fill="#089981"/>
<rect x="718" y="223" width="1" height="11" fill="#f23645"/><rect x="717" y="225" width="3" height="6" fill="#f23645"/>
<rect x="721" y="226" width="1" height="32" fill="#f23645"/><rect x="720" y="231" width="3" height="18" fill="#f23645"/>
<rect x="724" y="216" width="1" height="35" fill="#089981"/><rect x="723" y="230" width="3" height="19" fill="#089981"/>
<rect x="727" y="216" width="1" height="32" fill="#f23645"/><rect x="726" y="230" width="3" height="10" fill="#f23645"/>
<rect x="730" y="222" width="1" height="31" fill="#f23645"/><rect x="729" y="240" width="3" height="8" fill="#f23645"/>
<rect x="732" y="243" width="1" height="44" fill="#f23645"/><rect x="731" y="248" width="3" height="37" fill="#f23645"/>
<rect x="735" y="283" width="1" height="29" fill="#f23645"/><rect x="734" y="285" width="3" height="27" fill="#f23645"/>
<rect x="738" y="299" width="1" height="19" fill="#089981"/><rect x="737" y="300" width="3" height="12" fill="#089981"/>
<rect x="741" y="286" width="1" height="20" fill="#089981"/><rect x="740" y="286" width="3" height="14" fill="#089981"/>
<rect x="744" y="285" width="1" height="1" fill="#089981"/><rect x="743" y="286" width="3" height="1" fill="#089981"/>
<rect x="747" y="238" width="1" height="48" fill="#089981"/><rect x="746" y="246" width="3" height="40" fill="#089981"/>
<rect x="750" y="238" width="1" height="51" fill="#f23645"/><rect x="749" y="246" width="3" height="34" fill="#f23645"/>
<rect x="753" y="276" width="1" height="15" fill="#f23645"/><rect x="752" y="280" width="3" height="9" fill="#f23645"/>
<rect x="755" y="288" width="1" height="14" fill="#f23645"/><rect x="754" y="289" width="3" height="11" fill="#f23645"/>
<rect x="758" y="298" width="1" height="11" fill="#f23645"/><rect x="757" y="300" width="3" height="8" fill="#f23645"/>
<rect x="761" y="307" width="1" height="3" fill="#f23645"/><rect x="760" y="308" width="3" height="1" fill="#f23645"/>
<rect x="764" y="295" width="1" height="55" fill="#f23645"/><rect x="763" y="309" width="3" height="38" fill="#f23645"/>
<rect x="767" y="323" width="1" height="37" fill="#f23645"/><rect x="766" y="347" width="3" height="8" fill="#f23645"/>
<rect x="770" y="341" width="1" height="21" fill="#089981"/><rect x="769" y="344" width="3" height="11" fill="#089981"/>
<rect x="773" y="332" width="1" height="35" fill="#f23645"/><rect x="772" y="344" width="3" height="14" fill="#f23645"/>
<rect x="776" y="340" width="1" height="26" fill="#089981"/><rect x="775" y="357" width="3" height="1" fill="#089981"/>
<rect x="778" y="335" width="1" height="29" fill="#089981"/><rect x="777" y="342" width="3" height="15" fill="#089981"/>
<rect x="781" y="317" width="1" height="39" fill="#089981"/><rect x="780" y="324" width="3" height="18" fill="#089981"/>
<rect x="784" y="311" width="1" height="45" fill="#f23645"/><rect x="783" y="324" width="3" height="25" fill="#f23645"/>
<rect x="787" y="339" width="1" height="39" fill="#089981"/><rect x="786" y="342" width="3" height="7" fill="#089981"/>
<rect x="790" y="334" width="1" height="38" fill="#f23645"/><rect x="789" y="342" width="3" height="20" fill="#f23645"/>
<rect x="793" y="352" width="1" height="42" fill="#f23645"/><rect x="792" y="362" width="3" height="18" fill="#f23645"/>
<rect x="796" y="379" width="1" height="12" fill="#f23645"/><rect x="795" y="380" width="3" height="2" fill="#f23645"/>
<rect x="799" y="380" width="1" height="27" fill="#f23645"/><rect x="798" y="382" width="3" height="14" fill="#f23645"/>
<rect x="801" y="383" width="1" height="26" fill="#089981"/><rect x="800" y="385" width="3" height="11" fill="#089981"/>
<rect x="804" y="356" width="1" height="29" fill="#089981"/><rect x="803" y="376" width="3" height="9" fill="#089981"/>
<rect x="807" y="374" width="1" height="13" fill="#f23645"/><rect x="806" y="376" width="3" height="9" fill="#f23645"/>
<rect x="810" y="358" width="1" height="30" fill="#089981"/><rect x="809" y="367" width="3" height="18" fill="#089981"/>
<rect x="813" y="353" width="1" height="14" fill="#089981"/><rect x="812" y="355" width="3" height="12" fill="#089981"/>
<rect x="816" y="339" width="1" height="16" fill="#089981"/><rect x="815" y="353" width="3" height="2" fill="#089981"/>
<rect x="819" y="335" width="1" height="34" fill="#f23645"/><rect x="818" y="353" width="3" height="13" fill="#f23645"/>
<rect x="822" y="363" width="1" height="12" fill="#089981"/><rect x="821" y="364" width="3" height="2" fill="#089981"/>
<rect x="824" y="345" width="1" height="20" fill="#089981"/><rect x="823" y="353" width="3" height="11" fill="#089981"/>
<rect x="827" y="322" width="1" height="32" fill="#089981"/><rect x="826" y="323" width="3" height="30" fill="#089981"/>
<rect x="830" y="318" width="1" height="29" fill="#f23645"/><rect x="829" y="323" width="3" height="18" fill="#f23645"/>
<rect x="833" y="322" width="1" height="21" fill="#089981"/><rect x="832" y="326" width="3" height="15" fill="#089981"/>
<rect x="836" y="314" width="1" height="22" fill="#089981"/><rect x="835" y="316" width="3" height="10" fill="#089981"/>
<rect x="839" y="313" width="1" height="31" fill="#f23645"/><rect x="838" y="316" width="3" height="27" fill="#f23645"/>
<rect x="842" y="332" width="1" height="33" fill="#089981"/><rect x="841" y="339" width="3" height="4" fill="#089981"/>
<rect x="845" y="335" width="1" height="24" fill="#f23645"/><rect x="844" y="339" width="3" height="8" fill="#f23645"/>
<rect x="848" y="328" width="1" height="27" fill="#f23645"/><rect x="847" y="347" width="3" height="8" fill="#f23645"/>
<rect x="850" y="355" width="1" height="82" fill="#f23645"/><rect x="849" y="355" width="3" height="66" fill="#f23645"/>
<rect x="853" y="398" width="1" height="53" fill="#089981"/><rect x="852" y="400" width="3" height="21" fill="#089981"/>
<rect x="856" y="382" width="1" height="22" fill="#089981"/><rect x="855" y="384" width="3" height="16" fill="#089981"/>
<rect x="859" y="380" width="1" height="44" fill="#f23645"/><rect x="858" y="384" width="3" height="34" fill="#f23645"/>
<rect x="862" y="375" width="1" height="48" fill="#089981"/><rect x="861" y="386" width="3" height="32" fill="#089981"/>
<rect x="865" y="380" width="1" height="82" fill="#f23645"/><rect x="864" y="386" width="3" height="69" fill="#f23645"/>
<rect x="868" y="445" width="1" height="59" fill="#f23645"/><rect x="867" y="455" width="3" height="21" fill="#f23645"/>
<rect x="871" y="474" width="1" height="12" fill="#f23645"/><rect x="870" y="476" width="3" height="9" fill="#f23645"/>
<rect x="873" y="466" width="1" height="19" fill="#089981"/><rect x="872" y="480" width="3" height="5" fill="#089981"/>
<rect x="876" y="474" width="1" height="40" fill="#f23645"/><rect x="875" y="480" width="3" height="29" fill="#f23645"/>
<rect x="879" y="496" width="1" height="21" fill="#089981"/><rect x="878" y="496" width="3" height="13" fill="#089981"/>
<rect x="882" y="487" width="1" height="20" fill="#f23645"/><rect x="881" y="496" width="3" height="8" fill="#f23645"/>
<rect x="885" y="498" width="1" height="38" fill="#f23645"/><rect x="884" y="504" width="3" height="25" fill="#f23645"/>
<rect x="888" y="505" width="1" height="43" fill="#089981"/><rect x="887" y="512" width="3" height="17" fill="#089981"/>
<rect x="891" y="475" width="1" height="41" fill="#089981"/><rect x="890" y="476" width="3" height="36" fill="#089981"/>
<rect x="894" y="473" width="1" height="29" fill="#f23645"/><rect x="893" y="476" width="3" height="18" fill="#f23645"/>
<rect x="896" y="462" width="1" height="39" fill="#089981"/><rect x="895" y="472" width="3" height="22" fill="#089981"/>
<rect x="899" y="465" width="1" height="45" fill="#f23645"/><rect x="898" y="472" width="3" height="34" fill="#f23645"/>
<rect x="902" y="489" width="1" height="21" fill="#089981"/><rect x="901" y="498" width="3" height="8" fill="#089981"/>
<rect x="905" y="478" width="1" height="21" fill="#089981"/><rect x="904" y="484" width="3" height="14" fill="#089981"/>
<rect x="908" y="427" width="1" height="57" fill="#089981"/><rect x="907" y="435" width="3" height="49" fill="#089981"/>
<rect x="911" y="424" width="1" height="20" fill="#f23645"/><rect x="910" y="435" width="3" height="9" fill="#f23645"/>
<rect x="914" y="441" width="1" height="26" fill="#f23645"/><rect x="913" y="444" width="3" height="23" fill="#f23645"/>
<rect x="917" y="459" width="1" height="27" fill="#f23645"/><rect x="916" y="467" width="3" height="15" fill="#f23645"/>
<rect x="919" y="478" width="1" height="23" fill="#f23645"/><rect x="918" y="482" width="3" height="15" fill="#f23645"/>
<rect x="922" y="462" width="1" height="38" fill="#089981"/><rect x="921" y="467" width="3" height="30" fill="#089981"/>
<rect x="925" y="432" width="1" height="42" fill="#089981"/><rect x="924" y="432" width="3" height="35" fill="#089981"/>
<rect x="928" y="366" width="1" height="67" fill="#089981"/><rect x="927" y="369" width="3" height="63" fill="#089981"/>
<rect x="931" y="363" width="1" height="32" fill="#f23645"/><rect x="930" y="369" width="3" height="23" fill="#f23645"/>
<rect x="934" y="389" width="1" height="23" fill="#f23645"/><rect x="933" y="392" width="3" height="15" fill="#f23645"/>
<rect x="937" y="406" width="1" height="30" fill="#f23645"/><rect x="936" y="407" width="3" height="23" fill="#f23645"/>
<rect x="940" y="429" width="1" height="3" fill="#f23645"/><rect x="939" y="430" width="3" height="2" fill="#f23645"/>
<rect x="942" y="431" width="1" height="22" fill="#f23645"/><rect x="941" y="432" width="3" height="15" fill="#f23645"/>
<rect x="945" y="446" width="1" height="14" fill="#f23645"/><rect x="944" y="447" width="3" height="8" fill="#f23645"/>
<rect x="948" y="441" width="1" height="32" fill="#f23645"/><rect x="947" y="455" width="3" height="15" fill="#f23645"/>
<rect x="951" y="462" width="1" height="11" fill="#089981"/><rect x="950" y="464" width="3" height="6" fill="#089981"/>
<rect x="954" y="458" width="1" height="42" fill="#f23645"/><rect x="953" y="464" width="3" height="30" fill="#f23645"/>
<rect x="957" y="478" width="1" height="21" fill="#089981"/><rect x="956" y="482" width="3" height="12" fill="#089981"/>
<rect x="960" y="451" width="1" height="50" fill="#089981"/><rect x="959" y="456" width="3" height="26" fill="#089981"/>
<rect x="963" y="446" width="1" height="10" fill="#089981"/><rect x="962" y="447" width="3" height="9" fill="#089981"/>
<rect x="965" y="416" width="1" height="47" fill="#f23645"/><rect x="964" y="447" width="3" height="14" fill="#f23645"/>
<rect x="968" y="458" width="1" height="5" fill="#f23645"/><rect x="967" y="461" width="3" height="1" fill="#f23645"/>
<rect x="971" y="458" width="1" height="33" fill="#f23645"/><rect x="970" y="462" width="3" height="29" fill="#f23645"/>
<rect x="974" y="465" width="1" height="28" fill="#089981"/><rect x="973" y="465" width="3" height="26" fill="#089981"/>
<rect x="977" y="460" width="1" height="35" fill="#f23645"/><rect x="976" y="465" width="3" height="25" fill="#f23645"/>
<rect x="980" y="469" width="1" height="23" fill="#089981"/><rect x="979" y="474" width="3" height="16" fill="#089981"/>
<rect x="983" y="440" width="1" height="37" fill="#089981"/><rect x="982" y="446" width="3" height="28" fill="#089981"/>
<rect x="986" y="444" width="1" height="9" fill="#f23645"/><rect x="985" y="446" width="3" height="5" fill="#f23645"/>
<rect x="988" y="437" width="1" height="14" fill="#089981"/><rect x="987" y="445" width="3" height="6" fill="#089981"/>
<rect x="991" y="434" width="1" height="27" fill="#f23645"/><rect x="990" y="445" width="3" height="7" fill="#f23645"/>
<rect x="994" y="451" width="1" height="28" fill="#f23645"/><rect x="993" y="452" width="3" height="22" fill="#f23645"/>
<rect x="997" y="446" width="1" height="41" fill="#089981"/><rect x="996" y="460" width="3" height="14" fill="#089981"/>
<rect x="1000" y="436" width="1" height="24" fill="#089981"/><rect x="999" y="448" width="3" height="12" fill="#089981"/>
<rect x="1003" y="434" width="1" height="22" fill="#089981"/><rect x="1002" y="437" width="3" height="11" fill="#089981"/>
<rect x="1006" y="427" width="1" height="29" fill="#f23645"/><rect x="1005" y="437" width="3" height="3" fill="#f23645"/>
<rect x="1009" y="433" width="1" height="8" fill="#089981"/><rect x="1008" y="435" width="3" height="5" fill="#089981"/>
<rect x="1011" y="408" width="1" height="40" fill="#089981"/><rect x="1010" y="409" width="3" height="26" fill="#089981"/>
<rect x="1014" y="378" width="1" height="43" fill="#f23645"/><rect x="1013" y="409" width="3" height="11" fill="#f23645"/>
<rect x="1017" y="416" width="1" height="29" fill="#f23645"/><rect x="1016" y="420" width="3" height="25" fill="#f23645"/>
<rect x="1020" y="443" width="1" height="8" fill="#089981"/><rect x="1019" y="445" width="3" height="1" fill="#089981"/>
<rect x="1023" y="431" width="1" height="36" fill="#f23645"/><rect x="1022" y="445" width="3" height="11" fill="#f23645"/>
<rect x="1026" y="455" width="1" height="4" fill="#089981"/><rect x="1025" y="456" width="3" height="1" fill="#089981"/>
<rect x="1029" y="453" width="1" height="19" fill="#f23645"/><rect x="1028" y="456" width="3" height="8" fill="#f23645"/>
<rect x="1032" y="458" width="1" height="31" fill="#f23645"/><rect x="1031" y="464" width="3" height="12" fill="#f23645"/>
<rect x="1034" y="469" width="1" height="15" fill="#089981"/><rect x="1033" y="470" width="3" height="6" fill="#089981"/>
<rect x="1037" y="437" width="1" height="36" fill="#089981"/><rect x="1036" y="445" width="3" height="25" fill="#089981"/>
<rect x="1040" y="444" width="1" height="11" fill="#f23645"/><rect x="1039" y="445" width="3" height="10" fill="#f23645"/>
<rect x="1043" y="417" width="1" height="40" fill="#089981"/><rect x="1042" y="420" width="3" height="35" fill="#089981"/>
<rect x="1046" y="401" width="1" height="21" fill="#089981"/><rect x="1045" y="410" width="3" height="10" fill="#089981"/>
<rect x="1049" y="398" width="1" height="17" fill="#f23645"/><rect x="1048" y="410" width="3" height="4" fill="#f23645"/>
<rect x="1052" y="413" width="1" height="13" fill="#f23645"/><rect x="1051" y="414" width="3" height="3" fill="#f23645"/>
<rect x="1055" y="391" width="1" height="34" fill="#089981"/><rect x="1054" y="392" width="3" height="25" fill="#089981"/>
<rect x="1057" y="386" width="1" height="11" fill="#089981"/><rect x="1056" y="386" width="3" height="6" fill="#089981"/>
<rect x="1060" y="358" width="1" height="36" fill="#089981"/><rect x="1059" y="359" width="3" height="27" fill="#089981"/>
<rect x="1063" y="355" width="1" height="46" fill="#f23645"/><rect x="1062" y="359" width="3" height="23" fill="#f23645"/>
<rect x="1066" y="357" width="1" height="26" fill="#089981"/><rect x="1065" y="362" width="3" height="20" fill="#089981"/>
<rect x="1069" y="357" width="1" height="8" fill="#089981"/><rect x="1068" y="362" width="3" height="1" fill="#089981"/>
<rect x="1072" y="362" width="1" height="41" fill="#f23645"/><rect x="1071" y="362" width="3" height="30" fill="#f23645"/>
<rect x="1075" y="391" width="1" height="21" fill="#f23645"/><rect x="1074" y="392" width="3" height="18" fill="#f23645"/>
<rect x="1078" y="408" width="1" height="10" fill="#f23645"/><rect x="1077" y="410" width="3" height="5" fill="#f23645"/>
<rect x="1080" y="387" width="1" height="37" fill="#089981"/><rect x="1079" y="401" width="3" height="14" fill="#089981"/>
<rect x="1083" y="383" width="1" height="20" fill="#089981"/><rect x="1082" y="387" width="3" height="14" fill="#089981"/>
<rect x="1086" y="365" width="1" height="23" fill="#089981"/><rect x="1085" y="368" width="3" height="19" fill="#089981"/>
<rect x="1089" y="368" width="1" height="2" fill="#f23645"/><rect x="1088" y="368" width="3" height="2" fill="#f23645"/>
<rect x="1092" y="347" width="1" height="37" fill="#089981"/><rect x="1091" y="349" width="3" height="21" fill="#089981"/>
<rect x="1095" y="320" width="1" height="47" fill="#089981"/><rect x="1094" y="321" width="3" height="28" fill="#089981"/>
<rect x="1098" y="319" width="1" height="83" fill="#f23645"/><rect x="1097" y="321" width="3" height="73" fill="#f23645"/>
<rect x="1101" y="392" width="1" height="20" fill="#f23645"/><rect x="1100" y="394" width="3" height="7" fill="#f23645"/>
<rect x="1103" y="387" width="1" height="20" fill="#089981"/><rect x="1102" y="388" width="3" height="13" fill="#089981"/>
<rect x="1106" y="387" width="1" height="9" fill="#f23645"/><rect x="1105" y="388" width="3" height="6" fill="#f23645"/>
<rect x="1109" y="393" width="1" height="13" fill="#f23645"/><rect x="1108" y="394" width="3" height="5" fill="#f23645"/>
<rect x="1112" y="385" width="1" height="28" fill="#089981"/><rect x="1111" y="387" width="3" height="12" fill="#089981"/>
<rect x="1115" y="375" width="1" height="21" fill="#089981"/><rect x="1114" y="378" width="3" height="9" fill="#089981"/>
<rect x="1118" y="369" width="1" height="20" fill="#f23645"/><rect x="1117" y="378" width="3" height="6" fill="#f23645"/>
<rect x="1121" y="379" width="1" height="25" fill="#f23645"/><rect x="1120" y="384" width="3" height="10" fill="#f23645"/>
<rect x="1124" y="373" width="1" height="44" fill="#089981"/><rect x="1123" y="385" width="3" height="9" fill="#089981"/>
<rect x="1126" y="381" width="1" height="23" fill="#f23645"/><rect x="1125" y="385" width="3" height="13" fill="#f23645"/>
<rect x="1129" y="382" width="1" height="22" fill="#089981"/><rect x="1128" y="382" width="3" height="16" fill="#089981"/>
<rect x="1132" y="381" width="1" height="7" fill="#f23645"/><rect x="1131" y="382" width="3" height="3" fill="#f23645"/>
<rect x="1135" y="380" width="1" height="22" fill="#f23645"/><rect x="1134" y="385" width="3" height="10" fill="#f23645"/>
<rect x="1138" y="371" width="1" height="24" fill="#089981"/><rect x="1137" y="372" width="3" height="23" fill="#089981"/>
<rect x="1141" y="362" width="1" height="56" fill="#f23645"/><rect x="1140" y="372" width="3" height="34" fill="#f23645"/>
<rect x="1144" y="384" width="1" height="25" fill="#089981"/><rect x="1143" y="385" width="3" height="21" fill="#089981"/>
<rect x="1147" y="383" width="1" height="12" fill="#f23645"/><rect x="1146" y="385" width="3" height="9" fill="#f23645"/>
<rect x="1149" y="390" width="1" height="14" fill="#f23645"/><rect x="1148" y="394" width="3" height="1" fill="#f23645"/>
<rect x="1152" y="393" width="1" height="15" fill="#f23645"/><rect x="1151" y="395" width="3" height="9" fill="#f23645"/>
<rect x="1155" y="396" width="1" height="9" fill="#089981"/><rect x="1154" y="399" width="3" height="5" fill="#089981"/>
<rect x="1158" y="395" width="1" height="5" fill="#089981"/><rect x="1157" y="397" width="3" height="2" fill="#089981"/>
<rect x="1161" y="360" width="1" height="38" fill="#089981"/><rect x="1160" y="372" width="3" height="25" fill="#089981"/>
<rect x="1164" y="356" width="1" height="26" fill="#f23645"/><rect x="1163" y="372" width="3" height="7" fill="#f23645"/>
<rect x="1167" y="363" width="1" height="21" fill="#089981"/><rect x="1166" y="369" width="3" height="10" fill="#089981"/>
<rect x="1170" y="368" width="1" height="27" fill="#f23645"/><rect x="1169" y="369" width="3" height="25" fill="#f23645"/>
<rect x="1172" y="368" width="1" height="35" fill="#f23645"/><rect x="1171" y="377" width="3" height="15" fill="#f23645"/>
<rect x="1175" y="390" width="1" height="25" fill="#f23645"/><rect x="1174" y="392" width="3" height="1" fill="#f23645"/>
<rect x="1178" y="388" width="1" height="10" fill="#f23645"/><rect x="1177" y="393" width="3" height="2" fill="#f23645"/>
<rect x="1181" y="376" width="1" height="24" fill="#f23645"/><rect x="1180" y="391" width="3" height="6" fill="#f23645"/>
<rect x="1184" y="379" width="1" height="19" fill="#089981"/><rect x="1183" y="387" width="3" height="10" fill="#089981"/>
<rect x="1187" y="384" width="1" height="12" fill="#f23645"/><rect x="1186" y="387" width="3" height="6" fill="#f23645"/>
<rect x="1190" y="389" width="1" height="25" fill="#f23645"/><rect x="1189" y="393" width="3" height="17" fill="#f23645"/>
<rect x="1193" y="392" width="1" height="39" fill="#089981"/><rect x="1192" y="401" width="3" height="9" fill="#089981"/>
<rect x="1195" y="374" width="1" height="41" fill="#089981"/><rect x="1194" y="380" width="3" height="21" fill="#089981"/>
<rect x="1198" y="373" width="1" height="23" fill="#f23645"/><rect x="1197" y="380" width="3" height="1" fill="#f23645"/>
<rect x="1201" y="372" width="1" height="17" fill="#f23645"/><rect x="1200" y="373" width="3" height="13" fill="#f23645"/>
<rect x="1204" y="381" width="1" height="9" fill="#f23645"/><rect x="1203" y="386" width="3" height="2" fill="#f23645"/>
<rect x="1207" y="377" width="1" height="11" fill="#089981"/><rect x="1206" y="378" width="3" height="10" fill="#089981"/>
</g>
</g>
<text x="1256.3" y="81.1" fill="#f23645" style="font-size:12px;" textLength="60.4" lengthAdjust="spacingAndGlyphs" >1 (161.924)</text>
<text x="1256.3" y="180.8" fill="#ff9800" style="font-size:12px;" textLength="83.4" lengthAdjust="spacingAndGlyphs" >0.786 (157.132)</text>
<text x="1256.3" y="259.8" fill="#9c27b0" style="font-size:12px;" textLength="83.4" lengthAdjust="spacingAndGlyphs" >0.618 (153.370)</text>
<text x="1256.3" y="314.8" fill="#4caf50" style="font-size:12px;" textLength="70.2" lengthAdjust="spacingAndGlyphs" >0.5 (150.727)</text>
<text x="1256.3" y="369.8" fill="#f23645" style="font-size:12px;" textLength="83.4" lengthAdjust="spacingAndGlyphs" >0.382 (148.085)</text>
<text x="1256.3" y="438.0" fill="#4caf50" style="font-size:12px;" textLength="83.4" lengthAdjust="spacingAndGlyphs" >0.236 (144.815)</text>
<text x="1256.3" y="547.8" fill="#4caf50" style="font-size:12px;" textLength="60.4" lengthAdjust="spacingAndGlyphs" >0 (139.530)</text>
<text x="1707.7" y="419.3" fill="#43a047" style="font-size:13px;" textLength="47.9" lengthAdjust="spacingAndGlyphs" stroke="#43a047" stroke-width="0.35">Hỗ trợ 1</text>
<text x="1707.7" y="437.3" fill="#43a047" style="font-size:13px;" textLength="47.9" lengthAdjust="spacingAndGlyphs" stroke="#43a047" stroke-width="0.35">Hỗ trợ 2</text>
<g transform="translate(1207.4,606.3)"><circle r="9.7" fill="#fff" stroke="#9c27b0" stroke-width="1.3"/><path d="M3,-5.3 L-4.3,0.6 L-0.5,0.6 L-3.2,5.4 L4.1,-0.6 L0.5,-0.6 Z" fill="#9c27b0"/></g>
<g clip-path="url(#cr)">
<rect x="10" y="635.3" width="1753" height="114.1" fill="#7e57c2" fill-opacity="0.1"/>
<g clip-path="url(#c70)"><polygon points="10.0,635.3 10.0,652.6 16.3,656.4 22.6,648.9 27.6,646.4 30.1,651.4 33.1,650.1 35.8,671.4 38.9,670.2 41.9,660.2 45.1,672.7 48.9,700.3 52.6,727.9 55.7,737.4 58.9,717.8 61.9,714.1 65.2,700.3 67.7,687.7 70.9,682.7 74.0,655.2 79.0,645.1 82.7,648.9 87.0,647.6 90.7,653.9 96.5,654.7 99.8,648.9 102.8,651.4 104.8,648.9 107.8,662.7 111.6,653.9 114.1,652.1 116.6,653.9 119.6,627.1 121.6,625.1 124.6,625.1 126.6,617.5 132.9,610.0 140.4,607.5 147.9,612.5 154.2,615.0 157.2,641.4 159.9,627.6 162.9,680.2 165.5,692.8 168.7,702.8 173.0,684.0 176.7,672.7 179.2,673.2 184.3,665.7 188.5,662.2 191.8,686.5 195.5,676.5 198.0,672.7 200.1,667.7 202.3,669.7 205.6,661.4 209.3,659.7 211.8,660.2 214.3,662.7 216.8,656.4 219.9,650.9 223.1,670.2 225.6,663.9 228.6,687.7 231.9,707.8 235.1,687.7 237.4,694.0 241.2,675.2 244.4,672.2 248.7,679.7 251.9,674.0 255.7,667.2 259.5,662.7 262.5,659.7 265.7,645.1 268.7,635.6 272.0,639.6 275.0,638.9 277.8,625.6 280.8,625.1 284.5,624.6 287.0,617.5 289.5,615.0 292.1,618.8 295.1,636.3 297.8,647.1 300.8,646.4 303.8,638.9 306.3,633.3 308.8,695.3 311.6,716.6 314.6,714.1 317.6,709.0 320.9,737.4 323.9,714.8 327.1,714.1 330.4,720.3 334.7,751.7 338.4,750.4 340.9,751.7 343.9,746.7 347.2,764.7 351.0,773.0 356.0,775.5 361.0,770.5 363.5,764.7 366.0,750.4 368.5,752.4 372.3,745.4 375.3,744.1 378.0,739.1 381.0,712.8 384.8,730.4 389.8,742.9 393.6,742.9 396.1,728.6 399.1,740.4 402.4,741.6 404.9,743.6 407.4,732.9 409.9,727.9 412.4,715.3 416.1,703.3 419.2,717.8 422.4,731.6 424.9,735.4 427.9,742.4 429.9,729.9 432.4,734.1 436.2,736.6 439.2,741.6 441.7,749.2 445.0,749.2 448.0,721.6 451.2,720.3 455.8,699.5 461.3,706.5 464.5,686.5 467.5,685.2 470.6,716.6 473.8,697.8 475.8,697.8 478.8,667.7 481.3,662.7 484.6,650.9 487.6,656.4 491.4,656.4 493.9,647.6 497.1,657.2 501.4,648.9 505.2,655.7 510.2,647.6 513.9,658.9 517.7,646.4 520.2,642.6 522.2,631.8 524.5,646.4 527.7,642.6 530.7,635.1 536.5,633.8 539.7,658.9 542.8,650.1 547.8,671.4 550.8,643.9 554.0,666.4 556.5,670.7 561.6,657.7 569.1,641.4 570.8,667.2 575.3,665.2 579.9,658.2 582.9,668.9 585.4,668.2 589.1,677.7 592.4,692.8 594.1,712.8 596.7,707.8 599.9,724.1 603.4,725.8 605.9,724.8 609.2,711.6 612.4,716.6 615.0,717.3 617.5,697.8 621.7,684.0 625.5,679.7 628.5,668.9 631.7,662.2 635.0,671.4 637.5,655.2 640.0,634.6 643.0,649.6 646.8,644.6 651.8,638.9 654.3,641.4 658.1,656.4 662.6,651.4 665.6,654.7 669.4,651.4 674.4,643.9 678.1,648.9 681.9,660.2 684.4,662.7 686.1,656.4 689.4,689.0 691.9,707.3 695.2,689.7 698.2,699.0 700.7,700.3 703.9,685.2 708.2,694.0 712.0,714.1 715.2,699.0 717.7,702.8 720.7,714.1 724.0,701.0 729.5,710.3 732.5,727.9 735.3,742.9 738.3,742.9 742.1,727.9 744.6,720.3 747.1,692.8 750.3,714.1 752.8,717.8 755.3,724.1 757.8,716.6 760.9,725.3 764.6,739.1 766.6,741.6 769.6,735.4 773.4,740.4 775.9,739.1 780.9,713.3 784.2,724.1 786.7,721.1 789.7,727.9 793.4,737.4 796.0,737.9 799.2,744.6 804.2,726.6 806.5,730.4 811.0,712.8 813.5,705.3 816.5,704.0 819.8,712.3 822.8,710.3 825.3,700.3 826.8,676.5 829.8,689.0 833.1,677.7 835.6,674.0 838.6,692.8 842.3,693.3 848.1,704.0 849.8,740.9 855.4,713.3 858.6,727.9 861.9,707.8 864.9,734.1 868.7,742.4 872.4,742.9 875.7,749.7 878.7,741.6 881.7,744.1 884.9,751.7 887.5,742.9 890.7,716.6 893.2,722.3 896.2,710.3 898.7,722.8 900.0,722.9 903.8,711.6 908.0,685.8 911.3,690.3 917.0,713.6 921.8,679.0 924.3,682.8 927.6,660.2 931.3,671.5 937.6,687.8 940.1,689.0 943.9,697.8 947.6,706.6 951.4,702.8 953.9,716.6 956.4,714.1 960.2,694.1 962.7,689.8 967.7,700.3 970.9,713.4 974.0,697.1 977.0,709.1 982.7,685.8 986.5,687.8 989.7,685.3 994.0,702.1 999.0,687.3 1002.8,679.8 1006.5,681.5 1011.6,669.0 1014.1,668.5 1017.3,689.0 1019.8,685.3 1022.8,697.3 1024.6,694.1 1029.1,705.3 1032.1,711.6 1034.9,705.3 1037.1,685.8 1039.9,691.6 1042.9,669.0 1046.2,664.5 1051.7,669.7 1054.7,654.7 1057.4,651.4 1059.9,638.2 1062.9,657.7 1065.5,649.7 1068.5,647.7 1072.5,676.5 1075.5,686.5 1078.5,687.8 1081.7,680.3 1086.0,660.7 1088.5,661.5 1091.8,647.7 1095.0,636.4 1098.0,689.0 1100.6,692.8 1103.6,686.5 1109.3,692.8 1114.3,679.0 1118.1,685.3 1121.4,691.6 1123.9,685.3 1126.9,695.3 1129.4,684.0 1131.9,687.8 1134.9,692.8 1137.7,676.0 1140.7,700.3 1144.4,687.8 1146.9,692.8 1149.9,692.8 1153.2,699.8 1158.2,694.8 1160.7,674.8 1164.0,680.3 1167.0,674.0 1170.0,694.8 1173.3,694.1 1177.0,694.1 1180.3,697.8 1184.0,688.3 1187.0,697.8 1190.0,712.1 1193.3,697.8 1195.8,680.3 1198.3,680.3 1200.8,687.3 1203.3,687.8 1207.1,678.3 1207.1,635.3" fill="url(#gob)"/></g>
<g clip-path="url(#c30)"><polygon points="10.0,749.4 10.0,652.6 16.3,656.4 22.6,648.9 27.6,646.4 30.1,651.4 33.1,650.1 35.8,671.4 38.9,670.2 41.9,660.2 45.1,672.7 48.9,700.3 52.6,727.9 55.7,737.4 58.9,717.8 61.9,714.1 65.2,700.3 67.7,687.7 70.9,682.7 74.0,655.2 79.0,645.1 82.7,648.9 87.0,647.6 90.7,653.9 96.5,654.7 99.8,648.9 102.8,651.4 104.8,648.9 107.8,662.7 111.6,653.9 114.1,652.1 116.6,653.9 119.6,627.1 121.6,625.1 124.6,625.1 126.6,617.5 132.9,610.0 140.4,607.5 147.9,612.5 154.2,615.0 157.2,641.4 159.9,627.6 162.9,680.2 165.5,692.8 168.7,702.8 173.0,684.0 176.7,672.7 179.2,673.2 184.3,665.7 188.5,662.2 191.8,686.5 195.5,676.5 198.0,672.7 200.1,667.7 202.3,669.7 205.6,661.4 209.3,659.7 211.8,660.2 214.3,662.7 216.8,656.4 219.9,650.9 223.1,670.2 225.6,663.9 228.6,687.7 231.9,707.8 235.1,687.7 237.4,694.0 241.2,675.2 244.4,672.2 248.7,679.7 251.9,674.0 255.7,667.2 259.5,662.7 262.5,659.7 265.7,645.1 268.7,635.6 272.0,639.6 275.0,638.9 277.8,625.6 280.8,625.1 284.5,624.6 287.0,617.5 289.5,615.0 292.1,618.8 295.1,636.3 297.8,647.1 300.8,646.4 303.8,638.9 306.3,633.3 308.8,695.3 311.6,716.6 314.6,714.1 317.6,709.0 320.9,737.4 323.9,714.8 327.1,714.1 330.4,720.3 334.7,751.7 338.4,750.4 340.9,751.7 343.9,746.7 347.2,764.7 351.0,773.0 356.0,775.5 361.0,770.5 363.5,764.7 366.0,750.4 368.5,752.4 372.3,745.4 375.3,744.1 378.0,739.1 381.0,712.8 384.8,730.4 389.8,742.9 393.6,742.9 396.1,728.6 399.1,740.4 402.4,741.6 404.9,743.6 407.4,732.9 409.9,727.9 412.4,715.3 416.1,703.3 419.2,717.8 422.4,731.6 424.9,735.4 427.9,742.4 429.9,729.9 432.4,734.1 436.2,736.6 439.2,741.6 441.7,749.2 445.0,749.2 448.0,721.6 451.2,720.3 455.8,699.5 461.3,706.5 464.5,686.5 467.5,685.2 470.6,716.6 473.8,697.8 475.8,697.8 478.8,667.7 481.3,662.7 484.6,650.9 487.6,656.4 491.4,656.4 493.9,647.6 497.1,657.2 501.4,648.9 505.2,655.7 510.2,647.6 513.9,658.9 517.7,646.4 520.2,642.6 522.2,631.8 524.5,646.4 527.7,642.6 530.7,635.1 536.5,633.8 539.7,658.9 542.8,650.1 547.8,671.4 550.8,643.9 554.0,666.4 556.5,670.7 561.6,657.7 569.1,641.4 570.8,667.2 575.3,665.2 579.9,658.2 582.9,668.9 585.4,668.2 589.1,677.7 592.4,692.8 594.1,712.8 596.7,707.8 599.9,724.1 603.4,725.8 605.9,724.8 609.2,711.6 612.4,716.6 615.0,717.3 617.5,697.8 621.7,684.0 625.5,679.7 628.5,668.9 631.7,662.2 635.0,671.4 637.5,655.2 640.0,634.6 643.0,649.6 646.8,644.6 651.8,638.9 654.3,641.4 658.1,656.4 662.6,651.4 665.6,654.7 669.4,651.4 674.4,643.9 678.1,648.9 681.9,660.2 684.4,662.7 686.1,656.4 689.4,689.0 691.9,707.3 695.2,689.7 698.2,699.0 700.7,700.3 703.9,685.2 708.2,694.0 712.0,714.1 715.2,699.0 717.7,702.8 720.7,714.1 724.0,701.0 729.5,710.3 732.5,727.9 735.3,742.9 738.3,742.9 742.1,727.9 744.6,720.3 747.1,692.8 750.3,714.1 752.8,717.8 755.3,724.1 757.8,716.6 760.9,725.3 764.6,739.1 766.6,741.6 769.6,735.4 773.4,740.4 775.9,739.1 780.9,713.3 784.2,724.1 786.7,721.1 789.7,727.9 793.4,737.4 796.0,737.9 799.2,744.6 804.2,726.6 806.5,730.4 811.0,712.8 813.5,705.3 816.5,704.0 819.8,712.3 822.8,710.3 825.3,700.3 826.8,676.5 829.8,689.0 833.1,677.7 835.6,674.0 838.6,692.8 842.3,693.3 848.1,704.0 849.8,740.9 855.4,713.3 858.6,727.9 861.9,707.8 864.9,734.1 868.7,742.4 872.4,742.9 875.7,749.7 878.7,741.6 881.7,744.1 884.9,751.7 887.5,742.9 890.7,716.6 893.2,722.3 896.2,710.3 898.7,722.8 900.0,722.9 903.8,711.6 908.0,685.8 911.3,690.3 917.0,713.6 921.8,679.0 924.3,682.8 927.6,660.2 931.3,671.5 937.6,687.8 940.1,689.0 943.9,697.8 947.6,706.6 951.4,702.8 953.9,716.6 956.4,714.1 960.2,694.1 962.7,689.8 967.7,700.3 970.9,713.4 974.0,697.1 977.0,709.1 982.7,685.8 986.5,687.8 989.7,685.3 994.0,702.1 999.0,687.3 1002.8,679.8 1006.5,681.5 1011.6,669.0 1014.1,668.5 1017.3,689.0 1019.8,685.3 1022.8,697.3 1024.6,694.1 1029.1,705.3 1032.1,711.6 1034.9,705.3 1037.1,685.8 1039.9,691.6 1042.9,669.0 1046.2,664.5 1051.7,669.7 1054.7,654.7 1057.4,651.4 1059.9,638.2 1062.9,657.7 1065.5,649.7 1068.5,647.7 1072.5,676.5 1075.5,686.5 1078.5,687.8 1081.7,680.3 1086.0,660.7 1088.5,661.5 1091.8,647.7 1095.0,636.4 1098.0,689.0 1100.6,692.8 1103.6,686.5 1109.3,692.8 1114.3,679.0 1118.1,685.3 1121.4,691.6 1123.9,685.3 1126.9,695.3 1129.4,684.0 1131.9,687.8 1134.9,692.8 1137.7,676.0 1140.7,700.3 1144.4,687.8 1146.9,692.8 1149.9,692.8 1153.2,699.8 1158.2,694.8 1160.7,674.8 1164.0,680.3 1167.0,674.0 1170.0,694.8 1173.3,694.1 1177.0,694.1 1180.3,697.8 1184.0,688.3 1187.0,697.8 1190.0,712.1 1193.3,697.8 1195.8,680.3 1198.3,680.3 1200.8,687.3 1203.3,687.8 1207.1,678.3 1207.1,749.4" fill="url(#gos)"/></g>
<line x1="10" x2="1763" y1="635.5" y2="635.5" stroke="#6f6f76" stroke-width="1" stroke-dasharray="6 5"/>
<line x1="10" x2="1763" y1="692.5" y2="692.5" stroke="#b0b0b6" stroke-width="1" stroke-dasharray="6 5"/>
<line x1="10" x2="1763" y1="749.5" y2="749.5" stroke="#6f6f76" stroke-width="1" stroke-dasharray="6 5"/>
<path d="M10.0,660.2C11.3,659.3 15.0,656.5 17.5,655.2C20.1,653.8 22.5,652.9 25.1,652.1C27.7,651.4 30.6,650.6 33.1,650.9C35.6,651.2 37.7,652.1 40.1,653.9C42.5,655.7 45.1,658.1 47.6,661.4C50.1,664.8 52.6,669.8 55.2,674.0C57.7,678.1 60.4,683.2 62.7,686.5C65.0,689.7 67.3,692.0 68.9,693.5C70.6,695.0 71.2,695.3 72.7,695.3C74.2,695.2 75.4,694.5 77.7,693.3C80.0,692.0 84.0,690.3 86.5,687.7C89.0,685.2 90.5,681.9 92.8,677.7C95.1,673.5 97.8,666.6 100.3,662.7C102.8,658.7 104.9,655.7 107.8,653.9C110.7,652.1 114.1,654.0 117.8,652.1C121.6,650.3 126.6,645.5 130.4,642.6C134.1,639.8 137.5,637.6 140.4,635.1C143.3,632.6 145.8,630.1 147.9,627.6C150.0,625.1 151.2,621.7 152.9,620.1C154.6,618.4 156.3,617.5 157.9,617.5C159.6,617.5 160.9,616.7 162.9,620.1C165.0,623.4 167.5,632.4 170.5,637.6C173.4,642.8 177.2,647.0 180.5,651.4C183.8,655.8 188.0,660.0 190.5,663.9C193.0,667.9 193.9,672.7 195.5,675.2C197.2,677.7 198.5,679.0 200.6,679.0C202.6,679.0 205.6,676.9 208.1,675.2C210.6,673.5 213.3,670.4 215.6,668.9C217.9,667.5 219.4,666.3 221.9,666.4C224.4,666.6 227.5,668.6 230.6,669.7C233.8,670.7 237.3,671.7 240.7,672.7C244.0,673.7 247.3,675.2 250.7,676.0C254.0,676.7 258.2,677.3 260.7,677.2C263.2,677.1 263.6,676.9 265.7,675.2C267.8,673.5 270.3,670.9 273.3,667.2C276.2,663.4 279.9,657.4 283.3,652.6C286.6,647.9 290.4,642.0 293.3,638.9C296.2,635.7 298.7,635.0 300.8,633.8C303.0,632.7 304.7,631.2 306.3,631.8C308.0,632.5 308.8,633.7 310.9,637.6C312.9,641.5 315.9,649.5 318.4,655.2C320.9,660.8 323.6,666.0 325.9,671.4C328.2,676.9 330.3,682.3 332.2,687.7C334.0,693.2 335.3,698.8 337.2,704.0C339.1,709.3 341.4,714.1 343.4,719.1C345.5,724.1 347.6,729.7 349.7,734.1C351.8,738.5 354.1,741.8 356.0,745.4C357.9,749.0 359.1,752.6 361.0,755.4C362.9,758.3 365.2,760.9 367.3,762.4C369.3,764.0 371.4,764.8 373.5,764.7C375.6,764.6 377.5,763.0 379.8,761.7C382.1,760.4 384.8,758.8 387.3,756.7C389.8,754.6 392.5,751.9 394.8,749.2C397.1,746.4 398.8,742.5 401.1,740.4C403.4,738.3 406.1,738.3 408.6,736.6C411.1,735.0 414.1,731.6 416.1,730.4C418.2,729.1 419.5,729.0 421.2,729.1C422.8,729.2 423.7,730.9 426.2,731.1C428.7,731.3 432.9,730.4 436.2,730.4C439.5,730.3 443.1,730.9 446.2,730.9C449.4,730.8 453.1,730.1 455.0,729.9C456.9,729.6 455.8,730.3 457.5,729.1C459.2,727.9 462.5,724.9 465.0,722.8C467.5,720.7 470.3,719.5 472.6,716.6C474.9,713.6 476.5,709.7 478.8,705.3C481.1,700.9 483.6,694.8 486.3,690.2C489.1,685.7 492.2,681.7 495.1,677.7C498.0,673.7 501.0,669.8 503.9,666.4C506.8,663.1 509.5,660.4 512.7,657.7C515.8,654.9 519.8,651.8 522.7,650.1C525.6,648.5 527.7,648.5 530.2,647.6C532.7,646.8 535.4,645.4 537.7,645.1C540.0,644.8 541.9,645.4 544.0,645.9C546.1,646.4 547.6,647.0 550.3,648.1C553.0,649.3 557.4,651.8 560.3,652.6C563.2,653.5 565.3,652.6 567.8,653.4C570.3,654.1 572.8,656.0 575.3,657.2C577.9,658.3 580.8,659.6 582.9,660.2C585.0,660.8 585.8,659.2 587.9,660.7C590.0,662.1 592.9,665.7 595.4,668.9C597.9,672.2 600.4,676.5 602.9,680.2C605.4,684.0 607.9,688.2 610.4,691.5C612.9,694.8 615.5,698.3 618.0,700.3C620.5,702.3 623.2,703.3 625.5,703.5C627.8,703.7 629.7,702.9 631.7,701.5C633.8,700.2 635.9,698.4 638.0,695.3C640.1,692.1 642.2,686.9 644.3,682.7C646.4,678.5 648.3,674.4 650.6,670.2C652.8,666.0 655.6,660.8 658.1,657.7C660.6,654.5 663.1,653.1 665.6,651.4C668.1,649.6 671.0,648.0 673.1,647.1C675.2,646.3 676.2,646.0 678.1,646.4C680.0,646.8 682.3,647.8 684.4,649.6C686.5,651.5 687.9,654.7 690.7,657.7C693.4,660.7 697.3,664.3 700.7,667.7C704.0,671.0 707.4,674.0 710.7,677.7C714.1,681.5 717.4,686.5 720.7,690.2C724.1,694.0 727.4,696.9 730.8,700.3C734.1,703.6 737.5,707.7 740.8,710.3C744.1,712.9 747.5,713.9 750.8,715.8C754.2,717.7 757.9,719.9 760.9,721.6C763.8,723.3 766.1,725.2 768.4,726.1C770.7,727.0 772.6,727.4 774.6,727.1C776.7,726.8 778.8,725.0 780.9,724.6C783.0,724.2 784.9,724.0 787.2,724.6C789.5,725.1 792.4,726.8 794.7,727.9C797.0,728.9 798.9,730.6 801.0,731.1C803.1,731.7 804.7,732.2 807.2,731.1C809.7,730.0 813.3,726.1 816.0,724.6C818.7,723.1 821.0,723.8 823.5,722.1C826.0,720.3 828.5,717.1 831.0,714.1C833.6,711.1 836.3,706.7 838.6,704.0C840.9,701.4 843.2,699.4 844.8,698.3C846.5,697.1 847.1,697.0 848.6,697.3C850.1,697.5 851.5,699.1 853.6,699.8C855.7,700.5 858.6,699.8 861.1,701.5C863.6,703.3 866.1,706.8 868.7,710.3C871.2,713.9 873.7,719.3 876.2,722.8C878.7,726.4 881.6,729.6 883.7,731.6C885.8,733.6 886.8,734.3 888.7,734.6C890.6,735.0 893.1,733.7 895.0,733.6C896.9,733.5 898.3,734.5 900.0,734.2C901.7,733.8 902.9,733.3 905.0,731.7C907.1,730.0 910.0,726.7 912.5,724.1C915.0,721.6 917.5,720.2 920.1,716.6C922.6,713.1 925.1,706.8 927.6,702.8C930.1,698.9 932.4,695.3 935.1,692.8C937.8,690.3 941.2,688.3 943.9,687.8C946.6,687.3 948.7,689.4 951.4,689.8C954.1,690.2 957.4,689.4 960.2,690.3C962.9,691.2 965.2,693.4 967.7,695.3C970.2,697.2 973.1,700.3 975.2,701.6C977.3,702.8 978.1,703.0 980.2,702.8C982.3,702.7 985.0,702.0 987.7,700.8C990.5,699.7 993.4,697.1 996.5,695.8C999.6,694.6 1003.2,695.1 1006.5,693.3C1009.9,691.6 1013.9,686.8 1016.6,685.3C1019.3,683.7 1020.1,683.5 1022.8,684.0C1025.6,684.5 1029.9,687.5 1032.9,688.3C1035.8,689.1 1037.9,689.3 1040.4,689.0C1042.9,688.8 1045.4,687.3 1047.9,686.5C1050.4,685.8 1052.9,686.5 1055.4,684.8C1057.9,683.1 1060.2,679.6 1062.9,676.5C1065.7,673.5 1068.8,668.5 1071.7,666.5C1074.6,664.5 1077.8,665.2 1080.5,664.7C1083.2,664.3 1085.5,664.7 1088.0,664.0C1090.5,663.2 1093.0,659.4 1095.5,660.2C1098.0,661.1 1100.6,666.5 1103.1,669.0C1105.6,671.5 1108.1,674.3 1110.6,675.3C1113.1,676.2 1115.6,674.3 1118.1,674.8C1120.6,675.3 1123.1,676.5 1125.6,678.3C1128.1,680.0 1130.6,683.8 1133.1,685.3C1135.6,686.8 1137.7,686.9 1140.7,687.3C1143.6,687.7 1147.8,687.3 1150.7,687.8C1153.6,688.3 1155.3,690.2 1158.2,690.3C1161.1,690.4 1165.3,688.5 1168.2,688.3C1171.2,688.1 1172.8,688.5 1175.8,689.0C1178.7,689.6 1182.9,691.1 1185.8,691.6C1188.7,692.0 1190.8,691.8 1193.3,691.6C1195.8,691.3 1198.5,690.4 1200.8,690.3C1203.1,690.2 1206.0,690.9 1207.1,691.1" fill="none" stroke="#f7d23a" stroke-width="1" stroke-linejoin="round"/>
<polyline points="10.0,652.6 16.3,656.4 22.6,648.9 27.6,646.4 30.1,651.4 33.1,650.1 35.8,671.4 38.9,670.2 41.9,660.2 45.1,672.7 48.9,700.3 52.6,727.9 55.7,737.4 58.9,717.8 61.9,714.1 65.2,700.3 67.7,687.7 70.9,682.7 74.0,655.2 79.0,645.1 82.7,648.9 87.0,647.6 90.7,653.9 96.5,654.7 99.8,648.9 102.8,651.4 104.8,648.9 107.8,662.7 111.6,653.9 114.1,652.1 116.6,653.9 119.6,627.1 121.6,625.1 124.6,625.1 126.6,617.5 132.9,610.0 140.4,607.5 147.9,612.5 154.2,615.0 157.2,641.4 159.9,627.6 162.9,680.2 165.5,692.8 168.7,702.8 173.0,684.0 176.7,672.7 179.2,673.2 184.3,665.7 188.5,662.2 191.8,686.5 195.5,676.5 198.0,672.7 200.1,667.7 202.3,669.7 205.6,661.4 209.3,659.7 211.8,660.2 214.3,662.7 216.8,656.4 219.9,650.9 223.1,670.2 225.6,663.9 228.6,687.7 231.9,707.8 235.1,687.7 237.4,694.0 241.2,675.2 244.4,672.2 248.7,679.7 251.9,674.0 255.7,667.2 259.5,662.7 262.5,659.7 265.7,645.1 268.7,635.6 272.0,639.6 275.0,638.9 277.8,625.6 280.8,625.1 284.5,624.6 287.0,617.5 289.5,615.0 292.1,618.8 295.1,636.3 297.8,647.1 300.8,646.4 303.8,638.9 306.3,633.3 308.8,695.3 311.6,716.6 314.6,714.1 317.6,709.0 320.9,737.4 323.9,714.8 327.1,714.1 330.4,720.3 334.7,751.7 338.4,750.4 340.9,751.7 343.9,746.7 347.2,764.7 351.0,773.0 356.0,775.5 361.0,770.5 363.5,764.7 366.0,750.4 368.5,752.4 372.3,745.4 375.3,744.1 378.0,739.1 381.0,712.8 384.8,730.4 389.8,742.9 393.6,742.9 396.1,728.6 399.1,740.4 402.4,741.6 404.9,743.6 407.4,732.9 409.9,727.9 412.4,715.3 416.1,703.3 419.2,717.8 422.4,731.6 424.9,735.4 427.9,742.4 429.9,729.9 432.4,734.1 436.2,736.6 439.2,741.6 441.7,749.2 445.0,749.2 448.0,721.6 451.2,720.3 455.8,699.5 461.3,706.5 464.5,686.5 467.5,685.2 470.6,716.6 473.8,697.8 475.8,697.8 478.8,667.7 481.3,662.7 484.6,650.9 487.6,656.4 491.4,656.4 493.9,647.6 497.1,657.2 501.4,648.9 505.2,655.7 510.2,647.6 513.9,658.9 517.7,646.4 520.2,642.6 522.2,631.8 524.5,646.4 527.7,642.6 530.7,635.1 536.5,633.8 539.7,658.9 542.8,650.1 547.8,671.4 550.8,643.9 554.0,666.4 556.5,670.7 561.6,657.7 569.1,641.4 570.8,667.2 575.3,665.2 579.9,658.2 582.9,668.9 585.4,668.2 589.1,677.7 592.4,692.8 594.1,712.8 596.7,707.8 599.9,724.1 603.4,725.8 605.9,724.8 609.2,711.6 612.4,716.6 615.0,717.3 617.5,697.8 621.7,684.0 625.5,679.7 628.5,668.9 631.7,662.2 635.0,671.4 637.5,655.2 640.0,634.6 643.0,649.6 646.8,644.6 651.8,638.9 654.3,641.4 658.1,656.4 662.6,651.4 665.6,654.7 669.4,651.4 674.4,643.9 678.1,648.9 681.9,660.2 684.4,662.7 686.1,656.4 689.4,689.0 691.9,707.3 695.2,689.7 698.2,699.0 700.7,700.3 703.9,685.2 708.2,694.0 712.0,714.1 715.2,699.0 717.7,702.8 720.7,714.1 724.0,701.0 729.5,710.3 732.5,727.9 735.3,742.9 738.3,742.9 742.1,727.9 744.6,720.3 747.1,692.8 750.3,714.1 752.8,717.8 755.3,724.1 757.8,716.6 760.9,725.3 764.6,739.1 766.6,741.6 769.6,735.4 773.4,740.4 775.9,739.1 780.9,713.3 784.2,724.1 786.7,721.1 789.7,727.9 793.4,737.4 796.0,737.9 799.2,744.6 804.2,726.6 806.5,730.4 811.0,712.8 813.5,705.3 816.5,704.0 819.8,712.3 822.8,710.3 825.3,700.3 826.8,676.5 829.8,689.0 833.1,677.7 835.6,674.0 838.6,692.8 842.3,693.3 848.1,704.0 849.8,740.9 855.4,713.3 858.6,727.9 861.9,707.8 864.9,734.1 868.7,742.4 872.4,742.9 875.7,749.7 878.7,741.6 881.7,744.1 884.9,751.7 887.5,742.9 890.7,716.6 893.2,722.3 896.2,710.3 898.7,722.8 900.0,722.9 903.8,711.6 908.0,685.8 911.3,690.3 917.0,713.6 921.8,679.0 924.3,682.8 927.6,660.2 931.3,671.5 937.6,687.8 940.1,689.0 943.9,697.8 947.6,706.6 951.4,702.8 953.9,716.6 956.4,714.1 960.2,694.1 962.7,689.8 967.7,700.3 970.9,713.4 974.0,697.1 977.0,709.1 982.7,685.8 986.5,687.8 989.7,685.3 994.0,702.1 999.0,687.3 1002.8,679.8 1006.5,681.5 1011.6,669.0 1014.1,668.5 1017.3,689.0 1019.8,685.3 1022.8,697.3 1024.6,694.1 1029.1,705.3 1032.1,711.6 1034.9,705.3 1037.1,685.8 1039.9,691.6 1042.9,669.0 1046.2,664.5 1051.7,669.7 1054.7,654.7 1057.4,651.4 1059.9,638.2 1062.9,657.7 1065.5,649.7 1068.5,647.7 1072.5,676.5 1075.5,686.5 1078.5,687.8 1081.7,680.3 1086.0,660.7 1088.5,661.5 1091.8,647.7 1095.0,636.4 1098.0,689.0 1100.6,692.8 1103.6,686.5 1109.3,692.8 1114.3,679.0 1118.1,685.3 1121.4,691.6 1123.9,685.3 1126.9,695.3 1129.4,684.0 1131.9,687.8 1134.9,692.8 1137.7,676.0 1140.7,700.3 1144.4,687.8 1146.9,692.8 1149.9,692.8 1153.2,699.8 1158.2,694.8 1160.7,674.8 1164.0,680.3 1167.0,674.0 1170.0,694.8 1173.3,694.1 1177.0,694.1 1180.3,697.8 1184.0,688.3 1187.0,697.8 1190.0,712.1 1193.3,697.8 1195.8,680.3 1198.3,680.3 1200.8,687.3 1203.3,687.8 1207.1,678.3" fill="none" stroke="#7e57c2" stroke-width="1" stroke-linejoin="round"/>
</g>
<text x="1772.7" y="92.1" fill="#0f0f0f" style="font-size:12px;" textLength="41.1" lengthAdjust="spacingAndGlyphs" >162.000</text>
<text x="1772.7" y="133.8" fill="#0f0f0f" style="font-size:12px;" textLength="41.1" lengthAdjust="spacingAndGlyphs" >160.000</text>
<text x="1772.7" y="175.4" fill="#0f0f0f" style="font-size:12px;" textLength="41.1" lengthAdjust="spacingAndGlyphs" >158.000</text>
<text x="1772.7" y="217.1" fill="#0f0f0f" style="font-size:12px;" textLength="41.1" lengthAdjust="spacingAndGlyphs" >156.000</text>
<text x="1772.7" y="258.8" fill="#0f0f0f" style="font-size:12px;" textLength="41.1" lengthAdjust="spacingAndGlyphs" >154.000</text>
<text x="1772.7" y="300.4" fill="#0f0f0f" style="font-size:12px;" textLength="41.1" lengthAdjust="spacingAndGlyphs" >152.000</text>
<text x="1772.7" y="342.1" fill="#0f0f0f" style="font-size:12px;" textLength="41.1" lengthAdjust="spacingAndGlyphs" >150.000</text>
<text x="1772.7" y="383.8" fill="#0f0f0f" style="font-size:12px;" textLength="41.1" lengthAdjust="spacingAndGlyphs" >148.000</text>
<text x="1772.7" y="425.4" fill="#0f0f0f" style="font-size:12px;" textLength="41.1" lengthAdjust="spacingAndGlyphs" >146.000</text>
<text x="1772.7" y="467.1" fill="#0f0f0f" style="font-size:12px;" textLength="41.1" lengthAdjust="spacingAndGlyphs" >144.000</text>
<text x="1772.7" y="508.8" fill="#0f0f0f" style="font-size:12px;" textLength="41.1" lengthAdjust="spacingAndGlyphs" >142.000</text>
<text x="1772.7" y="550.4" fill="#0f0f0f" style="font-size:12px;" textLength="41.1" lengthAdjust="spacingAndGlyphs" >140.000</text>
<text x="1772.7" y="592.1" fill="#0f0f0f" style="font-size:12px;" textLength="41.1" lengthAdjust="spacingAndGlyphs" >138.000</text>
<text x="1772.7" y="667.9" fill="#0f0f0f" style="font-size:12px;" textLength="28.3" lengthAdjust="spacingAndGlyphs" >60.00</text>
<text x="1772.7" y="724.5" fill="#0f0f0f" style="font-size:12px;" textLength="28.3" lengthAdjust="spacingAndGlyphs" >40.00</text>
<rect x="1764" y="336" width="56" height="17" rx="2" fill="#f23645"/>
<text x="1772.9" y="348.6" fill="#fff" style="font-size:12px;font-weight:bold;" textLength="40.8" lengthAdjust="spacingAndGlyphs" >149.227</text>
<rect x="1764" y="353" width="56" height="17" rx="2" fill="#f23645"/>
<text x="1772.9" y="365.6" fill="#fff" style="font-size:12px;font-weight:bold;" textLength="40.8" lengthAdjust="spacingAndGlyphs" >148.076</text>
<rect x="1764" y="370" width="56" height="17" rx="2" fill="#089981"/>
<text x="1772.9" y="382.6" fill="#fff" style="font-size:12px;font-weight:bold;" textLength="40.8" lengthAdjust="spacingAndGlyphs" >148.074</text>
<rect x="1739" y="387" width="24" height="17" rx="2" fill="#7c4dff"/>
<text x="1743.3" y="399.6" fill="#fff" style="font-size:12px;font-weight:bold;" textLength="15.9" lengthAdjust="spacingAndGlyphs" >MA</text>
<rect x="1764" y="407.5" width="56" height="16.7" rx="2" fill="#4caf50"/>
<text x="1772.9" y="420.0" fill="#fff" style="font-size:12px;font-weight:bold;" textLength="40.8" lengthAdjust="spacingAndGlyphs" >146.300</text>
<rect x="1764" y="425.7" width="56" height="16.7" rx="2" fill="#4caf50"/>
<text x="1772.9" y="438.2" fill="#fff" style="font-size:12px;font-weight:bold;" textLength="40.8" lengthAdjust="spacingAndGlyphs" >145.417</text>
<rect x="1738.2" y="671" width="25" height="17" rx="2" fill="#7e57c2"/>
<text x="1743.0" y="683.6" fill="#fff" style="font-size:12px;font-weight:bold;" textLength="16.2" lengthAdjust="spacingAndGlyphs" >RSI</text>
<rect x="1684.2" y="688" width="79" height="17" rx="2" fill="#fdd835"/>
<text x="1688.6" y="700.6" fill="#0f0f0f" style="font-size:12px;" textLength="70.6" lengthAdjust="spacingAndGlyphs" >RSI-based MA</text>
<rect x="1767.5" y="31.5" width="54" height="25" rx="4" fill="#fff" stroke="#ebebeb"/>
<text x="1776.5" y="48.7" fill="#0f0f0f" style="font-size:12px;" textLength="19.1" lengthAdjust="spacingAndGlyphs" >JPY</text>
<text x="18.4" y="783.0" fill="#0f0f0f" style="font-size:12px;" textLength="41.9" lengthAdjust="spacingAndGlyphs" >Tháng 3</text>
<text x="78.9" y="783.0" fill="#0f0f0f" style="font-size:12px;" textLength="41.9" lengthAdjust="spacingAndGlyphs" >Tháng 4</text>
<text x="133.2" y="783.0" fill="#0f0f0f" style="font-size:12px;" textLength="59.7" lengthAdjust="spacingAndGlyphs" >Tháng Năm</text>
<text x="208.3" y="783.0" fill="#0f0f0f" style="font-size:12px;" textLength="41.9" lengthAdjust="spacingAndGlyphs" >Tháng 6</text>
<text x="265.8" y="783.0" fill="#0f0f0f" style="font-size:12px;" textLength="41.9" lengthAdjust="spacingAndGlyphs" >Tháng 7</text>
<text x="323.7" y="783.0" fill="#0f0f0f" style="font-size:12px;" textLength="58.2" lengthAdjust="spacingAndGlyphs" >Tháng Tám</text>
<text x="395.3" y="783.0" fill="#0f0f0f" style="font-size:12px;" textLength="41.9" lengthAdjust="spacingAndGlyphs" >Tháng 9</text>
<text x="452.4" y="783.0" fill="#0f0f0f" style="font-size:12px;" textLength="48.3" lengthAdjust="spacingAndGlyphs" >Tháng 10</text>
<text x="518.8" y="783.0" fill="#0f0f0f" style="font-size:12px;" textLength="47.4" lengthAdjust="spacingAndGlyphs" >Tháng 11</text>
<text x="650.6" y="783.0" fill="#0f0f0f" style="font-size:12px;font-weight:bold;" textLength="25.4" lengthAdjust="spacingAndGlyphs" >2025</text>
<text x="700.3" y="783.0" fill="#0f0f0f" style="font-size:12px;" textLength="52.7" lengthAdjust="spacingAndGlyphs" >Tháng Hai</text>
<text x="763.0" y="783.0" fill="#0f0f0f" style="font-size:12px;" textLength="41.9" lengthAdjust="spacingAndGlyphs" >Tháng 3</text>
<text x="823.5" y="783.0" fill="#0f0f0f" style="font-size:12px;" textLength="41.9" lengthAdjust="spacingAndGlyphs" >Tháng 4</text>
<text x="878.2" y="783.0" fill="#0f0f0f" style="font-size:12px;" textLength="59.7" lengthAdjust="spacingAndGlyphs" >Tháng Năm</text>
<text x="950.5" y="783.0" fill="#0f0f0f" style="font-size:12px;" textLength="41.9" lengthAdjust="spacingAndGlyphs" >Tháng 6</text>
<text x="1010.8" y="783.0" fill="#0f0f0f" style="font-size:12px;" textLength="41.9" lengthAdjust="spacingAndGlyphs" >Tháng 7</text>
<text x="1068.6" y="783.0" fill="#0f0f0f" style="font-size:12px;" textLength="58.2" lengthAdjust="spacingAndGlyphs" >Tháng Tám</text>
<text x="1137.3" y="783.0" fill="#0f0f0f" style="font-size:12px;" textLength="41.9" lengthAdjust="spacingAndGlyphs" >Tháng 9</text>
<text x="1197.5" y="783.0" fill="#0f0f0f" style="font-size:12px;" textLength="48.3" lengthAdjust="spacingAndGlyphs" >Tháng 10</text>
<text x="1264.1" y="783.0" fill="#0f0f0f" style="font-size:12px;" textLength="47.4" lengthAdjust="spacingAndGlyphs" >Tháng 11</text>
<text x="1398.9" y="783.0" fill="#0f0f0f" style="font-size:12px;font-weight:bold;" textLength="25.4" lengthAdjust="spacingAndGlyphs" >2026</text>
<text x="1448.5" y="783.0" fill="#0f0f0f" style="font-size:12px;" textLength="52.7" lengthAdjust="spacingAndGlyphs" >Tháng Hai</text>
<text x="1511.3" y="783.0" fill="#0f0f0f" style="font-size:12px;" textLength="41.9" lengthAdjust="spacingAndGlyphs" >Tháng 3</text>
<text x="1574.6" y="783.0" fill="#0f0f0f" style="font-size:12px;" textLength="41.9" lengthAdjust="spacingAndGlyphs" >Tháng 4</text>
<text x="1629.0" y="783.0" fill="#0f0f0f" style="font-size:12px;" textLength="59.7" lengthAdjust="spacingAndGlyphs" >Tháng Năm</text>
<text x="1698.5" y="783.0" fill="#0f0f0f" style="font-size:12px;" textLength="41.9" lengthAdjust="spacingAndGlyphs" >Tháng 6</text>
<text x="10.1" y="18.8" fill="#dbdbdb" style="font-size:12.4px;" textLength="359.7" lengthAdjust="spacingAndGlyphs" >BestSC đã tạo với TradingView.com, Tháng 9 24, 2025 14:40 UTC+7</text>
<text x="18.0" y="45.6" fill="#0f0f0f" style="font-size:12px;" textLength="173.6" lengthAdjust="spacingAndGlyphs" >Đô la Mỹ / Yên Nhật · 1D · FXCM</text>
<text x="199.2" y="45.6" fill="#0f0f0f" style="font-size:12px;" >O</text>
<text x="208.4" y="45.6" fill="#089981" style="font-size:12px;" textLength="40.7" lengthAdjust="spacingAndGlyphs" >147.641</text>
<text x="256.9" y="45.6" fill="#0f0f0f" style="font-size:12px;" >H</text>
<text x="264.8" y="45.6" fill="#089981" style="font-size:12px;" textLength="40.7" lengthAdjust="spacingAndGlyphs" >148.106</text>
<text x="314.4" y="45.6" fill="#0f0f0f" style="font-size:12px;" >L</text>
<text x="320.9" y="45.6" fill="#089981" style="font-size:12px;" textLength="40.7" lengthAdjust="spacingAndGlyphs" >147.515</text>
<text x="369.7" y="45.6" fill="#0f0f0f" style="font-size:12px;" >C</text>
<text x="377.2" y="45.6" fill="#089981" style="font-size:12px;" textLength="40.7" lengthAdjust="spacingAndGlyphs" >148.074</text>
<text x="426.2" y="45.6" fill="#089981" style="font-size:12px;" textLength="84.4" lengthAdjust="spacingAndGlyphs" >+0.433 (+0.29%)</text>
<g fill="#dbdbdb"><path d="M11.9,815.1 H23.9 V830 H17.8 V820.7 H11.9 Z"/><circle cx="28.8" cy="817.8" r="2.75"/><path d="M35.5,815.1 H41.8 L35.7,830 H29.1 Z"/></g>
<text x="49.2" y="830.0" fill="#dbdbdb" style="font-size:20.8px;font-weight:bold;" textLength="120.8" lengthAdjust="spacingAndGlyphs" >TradingView</text>
</svg>
</body></html>
